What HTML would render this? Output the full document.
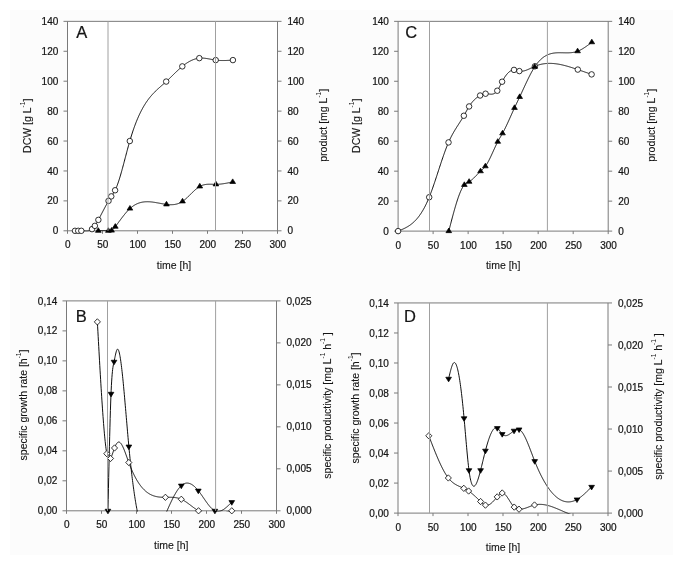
<!DOCTYPE html>
<html><head><meta charset="utf-8"><style>
html,body{margin:0;padding:0;background:#fff;}
svg{display:block;filter:grayscale(1);}
text{font-family:"Liberation Sans", sans-serif;fill:#151515;stroke:#151515;stroke-width:0.22px;}
text.t{stroke-width:0.12px;}
</style></head><body>
<svg width="685" height="566" viewBox="0 0 685 566">
<rect x="0" y="0" width="685" height="566" fill="#fff"/>
<rect x="10" y="10" width="663" height="545" fill="#fcfcfc"/>
<rect x="67.50" y="21.35" width="210.00" height="209.45" fill="#fff"/>
<line x1="63.50" y1="21.35" x2="281.50" y2="21.35" stroke="#7a7a7a" stroke-width="1"/>
<line x1="67.50" y1="21.35" x2="67.50" y2="233.80" stroke="#7a7a7a" stroke-width="1"/>
<line x1="277.50" y1="21.35" x2="277.50" y2="233.80" stroke="#7a7a7a" stroke-width="1"/>
<line x1="63.50" y1="230.80" x2="281.50" y2="230.80" stroke="#7a7a7a" stroke-width="1"/>
<text x="58.30" y="234.40" font-size="10" text-anchor="end">0</text>
<line x1="63.50" y1="200.88" x2="67.50" y2="200.88" stroke="#7a7a7a" stroke-width="1"/>
<text x="58.30" y="204.48" font-size="10" text-anchor="end">20</text>
<line x1="63.50" y1="170.96" x2="67.50" y2="170.96" stroke="#7a7a7a" stroke-width="1"/>
<text x="58.30" y="174.56" font-size="10" text-anchor="end">40</text>
<line x1="63.50" y1="141.04" x2="67.50" y2="141.04" stroke="#7a7a7a" stroke-width="1"/>
<text x="58.30" y="144.64" font-size="10" text-anchor="end">60</text>
<line x1="63.50" y1="111.11" x2="67.50" y2="111.11" stroke="#7a7a7a" stroke-width="1"/>
<text x="58.30" y="114.71" font-size="10" text-anchor="end">80</text>
<line x1="63.50" y1="81.19" x2="67.50" y2="81.19" stroke="#7a7a7a" stroke-width="1"/>
<text x="58.30" y="84.79" font-size="10" text-anchor="end">100</text>
<line x1="63.50" y1="51.27" x2="67.50" y2="51.27" stroke="#7a7a7a" stroke-width="1"/>
<text x="58.30" y="54.87" font-size="10" text-anchor="end">120</text>
<text x="58.30" y="24.95" font-size="10" text-anchor="end">140</text>
<text x="287.50" y="234.40" font-size="10" text-anchor="start">0</text>
<line x1="277.50" y1="200.88" x2="281.50" y2="200.88" stroke="#7a7a7a" stroke-width="1"/>
<text x="287.50" y="204.48" font-size="10" text-anchor="start">20</text>
<line x1="277.50" y1="170.96" x2="281.50" y2="170.96" stroke="#7a7a7a" stroke-width="1"/>
<text x="287.50" y="174.56" font-size="10" text-anchor="start">40</text>
<line x1="277.50" y1="141.04" x2="281.50" y2="141.04" stroke="#7a7a7a" stroke-width="1"/>
<text x="287.50" y="144.64" font-size="10" text-anchor="start">60</text>
<line x1="277.50" y1="111.11" x2="281.50" y2="111.11" stroke="#7a7a7a" stroke-width="1"/>
<text x="287.50" y="114.71" font-size="10" text-anchor="start">80</text>
<line x1="277.50" y1="81.19" x2="281.50" y2="81.19" stroke="#7a7a7a" stroke-width="1"/>
<text x="287.50" y="84.79" font-size="10" text-anchor="start">100</text>
<line x1="277.50" y1="51.27" x2="281.50" y2="51.27" stroke="#7a7a7a" stroke-width="1"/>
<text x="287.50" y="54.87" font-size="10" text-anchor="start">120</text>
<text x="287.50" y="24.95" font-size="10" text-anchor="start">140</text>
<text x="67.80" y="248.40" font-size="10" text-anchor="middle">0</text>
<line x1="102.50" y1="230.80" x2="102.50" y2="233.80" stroke="#7a7a7a" stroke-width="1"/>
<text x="102.80" y="248.40" font-size="10" text-anchor="middle">50</text>
<line x1="137.50" y1="230.80" x2="137.50" y2="233.80" stroke="#7a7a7a" stroke-width="1"/>
<text x="137.80" y="248.40" font-size="10" text-anchor="middle">100</text>
<line x1="172.50" y1="230.80" x2="172.50" y2="233.80" stroke="#7a7a7a" stroke-width="1"/>
<text x="172.80" y="248.40" font-size="10" text-anchor="middle">150</text>
<line x1="207.50" y1="230.80" x2="207.50" y2="233.80" stroke="#7a7a7a" stroke-width="1"/>
<text x="207.80" y="248.40" font-size="10" text-anchor="middle">200</text>
<line x1="242.50" y1="230.80" x2="242.50" y2="233.80" stroke="#7a7a7a" stroke-width="1"/>
<text x="242.80" y="248.40" font-size="10" text-anchor="middle">250</text>
<text x="277.80" y="248.40" font-size="10" text-anchor="middle">300</text>
<text x="76.30" y="38.15" font-size="16.5" text-anchor="start">A</text>
<text x="174.00" y="268.80" font-size="10.5" text-anchor="middle" class="t">time [h]</text>
<clipPath id="cA"><rect x="67.50" y="20.85" width="210.00" height="210.65"/></clipPath>
<rect x="66.50" y="300.90" width="210.00" height="209.90" fill="#fff"/>
<line x1="62.50" y1="300.90" x2="280.50" y2="300.90" stroke="#7a7a7a" stroke-width="1"/>
<line x1="66.50" y1="300.90" x2="66.50" y2="513.80" stroke="#7a7a7a" stroke-width="1"/>
<line x1="276.50" y1="300.90" x2="276.50" y2="513.80" stroke="#7a7a7a" stroke-width="1"/>
<line x1="62.50" y1="510.80" x2="280.50" y2="510.80" stroke="#7a7a7a" stroke-width="1"/>
<text x="57.30" y="514.40" font-size="10" text-anchor="end">0,00</text>
<line x1="62.50" y1="480.81" x2="66.50" y2="480.81" stroke="#7a7a7a" stroke-width="1"/>
<text x="57.30" y="484.41" font-size="10" text-anchor="end">0,02</text>
<line x1="62.50" y1="450.83" x2="66.50" y2="450.83" stroke="#7a7a7a" stroke-width="1"/>
<text x="57.30" y="454.43" font-size="10" text-anchor="end">0,04</text>
<line x1="62.50" y1="420.84" x2="66.50" y2="420.84" stroke="#7a7a7a" stroke-width="1"/>
<text x="57.30" y="424.44" font-size="10" text-anchor="end">0,06</text>
<line x1="62.50" y1="390.86" x2="66.50" y2="390.86" stroke="#7a7a7a" stroke-width="1"/>
<text x="57.30" y="394.46" font-size="10" text-anchor="end">0,08</text>
<line x1="62.50" y1="360.87" x2="66.50" y2="360.87" stroke="#7a7a7a" stroke-width="1"/>
<text x="57.30" y="364.47" font-size="10" text-anchor="end">0,10</text>
<line x1="62.50" y1="330.89" x2="66.50" y2="330.89" stroke="#7a7a7a" stroke-width="1"/>
<text x="57.30" y="334.49" font-size="10" text-anchor="end">0,12</text>
<text x="57.30" y="304.50" font-size="10" text-anchor="end">0,14</text>
<text x="286.50" y="514.40" font-size="10" text-anchor="start">0,000</text>
<line x1="276.50" y1="468.82" x2="280.50" y2="468.82" stroke="#7a7a7a" stroke-width="1"/>
<text x="286.50" y="472.42" font-size="10" text-anchor="start">0,005</text>
<line x1="276.50" y1="426.84" x2="280.50" y2="426.84" stroke="#7a7a7a" stroke-width="1"/>
<text x="286.50" y="430.44" font-size="10" text-anchor="start">0,010</text>
<line x1="276.50" y1="384.86" x2="280.50" y2="384.86" stroke="#7a7a7a" stroke-width="1"/>
<text x="286.50" y="388.46" font-size="10" text-anchor="start">0,015</text>
<line x1="276.50" y1="342.88" x2="280.50" y2="342.88" stroke="#7a7a7a" stroke-width="1"/>
<text x="286.50" y="346.48" font-size="10" text-anchor="start">0,020</text>
<text x="286.50" y="304.50" font-size="10" text-anchor="start">0,025</text>
<text x="66.80" y="528.40" font-size="10" text-anchor="middle">0</text>
<line x1="101.50" y1="510.80" x2="101.50" y2="513.80" stroke="#7a7a7a" stroke-width="1"/>
<text x="101.80" y="528.40" font-size="10" text-anchor="middle">50</text>
<line x1="136.50" y1="510.80" x2="136.50" y2="513.80" stroke="#7a7a7a" stroke-width="1"/>
<text x="136.80" y="528.40" font-size="10" text-anchor="middle">100</text>
<line x1="171.50" y1="510.80" x2="171.50" y2="513.80" stroke="#7a7a7a" stroke-width="1"/>
<text x="171.80" y="528.40" font-size="10" text-anchor="middle">150</text>
<line x1="206.50" y1="510.80" x2="206.50" y2="513.80" stroke="#7a7a7a" stroke-width="1"/>
<text x="206.80" y="528.40" font-size="10" text-anchor="middle">200</text>
<line x1="241.50" y1="510.80" x2="241.50" y2="513.80" stroke="#7a7a7a" stroke-width="1"/>
<text x="241.80" y="528.40" font-size="10" text-anchor="middle">250</text>
<text x="276.80" y="528.40" font-size="10" text-anchor="middle">300</text>
<text x="75.80" y="321.90" font-size="16.5" text-anchor="start">B</text>
<text x="171.30" y="548.80" font-size="10.5" text-anchor="middle" class="t">time [h]</text>
<clipPath id="cB"><rect x="66.50" y="300.40" width="210.00" height="211.10"/></clipPath>
<rect x="398.10" y="21.35" width="210.10" height="209.75" fill="#fff"/>
<line x1="394.10" y1="21.35" x2="612.20" y2="21.35" stroke="#7a7a7a" stroke-width="1"/>
<line x1="398.10" y1="21.35" x2="398.10" y2="234.10" stroke="#7a7a7a" stroke-width="1"/>
<line x1="608.20" y1="21.35" x2="608.20" y2="234.10" stroke="#7a7a7a" stroke-width="1"/>
<line x1="394.10" y1="231.10" x2="612.20" y2="231.10" stroke="#7a7a7a" stroke-width="1"/>
<text x="388.90" y="234.70" font-size="10" text-anchor="end">0</text>
<line x1="394.10" y1="201.14" x2="398.10" y2="201.14" stroke="#7a7a7a" stroke-width="1"/>
<text x="388.90" y="204.74" font-size="10" text-anchor="end">20</text>
<line x1="394.10" y1="171.17" x2="398.10" y2="171.17" stroke="#7a7a7a" stroke-width="1"/>
<text x="388.90" y="174.77" font-size="10" text-anchor="end">40</text>
<line x1="394.10" y1="141.21" x2="398.10" y2="141.21" stroke="#7a7a7a" stroke-width="1"/>
<text x="388.90" y="144.81" font-size="10" text-anchor="end">60</text>
<line x1="394.10" y1="111.24" x2="398.10" y2="111.24" stroke="#7a7a7a" stroke-width="1"/>
<text x="388.90" y="114.84" font-size="10" text-anchor="end">80</text>
<line x1="394.10" y1="81.28" x2="398.10" y2="81.28" stroke="#7a7a7a" stroke-width="1"/>
<text x="388.90" y="84.88" font-size="10" text-anchor="end">100</text>
<line x1="394.10" y1="51.31" x2="398.10" y2="51.31" stroke="#7a7a7a" stroke-width="1"/>
<text x="388.90" y="54.91" font-size="10" text-anchor="end">120</text>
<text x="388.90" y="24.95" font-size="10" text-anchor="end">140</text>
<text x="618.20" y="234.70" font-size="10" text-anchor="start">0</text>
<line x1="608.20" y1="201.14" x2="612.20" y2="201.14" stroke="#7a7a7a" stroke-width="1"/>
<text x="618.20" y="204.74" font-size="10" text-anchor="start">20</text>
<line x1="608.20" y1="171.17" x2="612.20" y2="171.17" stroke="#7a7a7a" stroke-width="1"/>
<text x="618.20" y="174.77" font-size="10" text-anchor="start">40</text>
<line x1="608.20" y1="141.21" x2="612.20" y2="141.21" stroke="#7a7a7a" stroke-width="1"/>
<text x="618.20" y="144.81" font-size="10" text-anchor="start">60</text>
<line x1="608.20" y1="111.24" x2="612.20" y2="111.24" stroke="#7a7a7a" stroke-width="1"/>
<text x="618.20" y="114.84" font-size="10" text-anchor="start">80</text>
<line x1="608.20" y1="81.28" x2="612.20" y2="81.28" stroke="#7a7a7a" stroke-width="1"/>
<text x="618.20" y="84.88" font-size="10" text-anchor="start">100</text>
<line x1="608.20" y1="51.31" x2="612.20" y2="51.31" stroke="#7a7a7a" stroke-width="1"/>
<text x="618.20" y="54.91" font-size="10" text-anchor="start">120</text>
<text x="618.20" y="24.95" font-size="10" text-anchor="start">140</text>
<text x="398.40" y="248.70" font-size="10" text-anchor="middle">0</text>
<line x1="433.12" y1="231.10" x2="433.12" y2="234.10" stroke="#7a7a7a" stroke-width="1"/>
<text x="433.42" y="248.70" font-size="10" text-anchor="middle">50</text>
<line x1="468.13" y1="231.10" x2="468.13" y2="234.10" stroke="#7a7a7a" stroke-width="1"/>
<text x="468.43" y="248.70" font-size="10" text-anchor="middle">100</text>
<line x1="503.15" y1="231.10" x2="503.15" y2="234.10" stroke="#7a7a7a" stroke-width="1"/>
<text x="503.45" y="248.70" font-size="10" text-anchor="middle">150</text>
<line x1="538.17" y1="231.10" x2="538.17" y2="234.10" stroke="#7a7a7a" stroke-width="1"/>
<text x="538.47" y="248.70" font-size="10" text-anchor="middle">200</text>
<line x1="573.18" y1="231.10" x2="573.18" y2="234.10" stroke="#7a7a7a" stroke-width="1"/>
<text x="573.48" y="248.70" font-size="10" text-anchor="middle">250</text>
<text x="608.50" y="248.70" font-size="10" text-anchor="middle">300</text>
<text x="405.20" y="38.05" font-size="16.5" text-anchor="start">C</text>
<text x="503.15" y="269.10" font-size="10.5" text-anchor="middle" class="t">time [h]</text>
<clipPath id="cC"><rect x="398.10" y="20.85" width="210.10" height="210.95"/></clipPath>
<rect x="398.00" y="302.95" width="210.00" height="210.15" fill="#fff"/>
<line x1="394.00" y1="302.95" x2="612.00" y2="302.95" stroke="#7a7a7a" stroke-width="1"/>
<line x1="398.00" y1="302.95" x2="398.00" y2="516.10" stroke="#7a7a7a" stroke-width="1"/>
<line x1="608.00" y1="302.95" x2="608.00" y2="516.10" stroke="#7a7a7a" stroke-width="1"/>
<line x1="394.00" y1="513.10" x2="612.00" y2="513.10" stroke="#7a7a7a" stroke-width="1"/>
<text x="388.80" y="516.70" font-size="10" text-anchor="end">0,00</text>
<line x1="394.00" y1="483.08" x2="398.00" y2="483.08" stroke="#7a7a7a" stroke-width="1"/>
<text x="388.80" y="486.68" font-size="10" text-anchor="end">0,02</text>
<line x1="394.00" y1="453.06" x2="398.00" y2="453.06" stroke="#7a7a7a" stroke-width="1"/>
<text x="388.80" y="456.66" font-size="10" text-anchor="end">0,04</text>
<line x1="394.00" y1="423.04" x2="398.00" y2="423.04" stroke="#7a7a7a" stroke-width="1"/>
<text x="388.80" y="426.64" font-size="10" text-anchor="end">0,06</text>
<line x1="394.00" y1="393.01" x2="398.00" y2="393.01" stroke="#7a7a7a" stroke-width="1"/>
<text x="388.80" y="396.61" font-size="10" text-anchor="end">0,08</text>
<line x1="394.00" y1="362.99" x2="398.00" y2="362.99" stroke="#7a7a7a" stroke-width="1"/>
<text x="388.80" y="366.59" font-size="10" text-anchor="end">0,10</text>
<line x1="394.00" y1="332.97" x2="398.00" y2="332.97" stroke="#7a7a7a" stroke-width="1"/>
<text x="388.80" y="336.57" font-size="10" text-anchor="end">0,12</text>
<text x="388.80" y="306.55" font-size="10" text-anchor="end">0,14</text>
<text x="618.00" y="516.70" font-size="10" text-anchor="start">0,000</text>
<line x1="608.00" y1="471.07" x2="612.00" y2="471.07" stroke="#7a7a7a" stroke-width="1"/>
<text x="618.00" y="474.67" font-size="10" text-anchor="start">0,005</text>
<line x1="608.00" y1="429.04" x2="612.00" y2="429.04" stroke="#7a7a7a" stroke-width="1"/>
<text x="618.00" y="432.64" font-size="10" text-anchor="start">0,010</text>
<line x1="608.00" y1="387.01" x2="612.00" y2="387.01" stroke="#7a7a7a" stroke-width="1"/>
<text x="618.00" y="390.61" font-size="10" text-anchor="start">0,015</text>
<line x1="608.00" y1="344.98" x2="612.00" y2="344.98" stroke="#7a7a7a" stroke-width="1"/>
<text x="618.00" y="348.58" font-size="10" text-anchor="start">0,020</text>
<text x="618.00" y="306.55" font-size="10" text-anchor="start">0,025</text>
<text x="398.30" y="530.70" font-size="10" text-anchor="middle">0</text>
<line x1="433.00" y1="513.10" x2="433.00" y2="516.10" stroke="#7a7a7a" stroke-width="1"/>
<text x="433.30" y="530.70" font-size="10" text-anchor="middle">50</text>
<line x1="468.00" y1="513.10" x2="468.00" y2="516.10" stroke="#7a7a7a" stroke-width="1"/>
<text x="468.30" y="530.70" font-size="10" text-anchor="middle">100</text>
<line x1="503.00" y1="513.10" x2="503.00" y2="516.10" stroke="#7a7a7a" stroke-width="1"/>
<text x="503.30" y="530.70" font-size="10" text-anchor="middle">150</text>
<line x1="538.00" y1="513.10" x2="538.00" y2="516.10" stroke="#7a7a7a" stroke-width="1"/>
<text x="538.30" y="530.70" font-size="10" text-anchor="middle">200</text>
<line x1="573.00" y1="513.10" x2="573.00" y2="516.10" stroke="#7a7a7a" stroke-width="1"/>
<text x="573.30" y="530.70" font-size="10" text-anchor="middle">250</text>
<text x="608.30" y="530.70" font-size="10" text-anchor="middle">300</text>
<text x="404.10" y="321.85" font-size="16.5" text-anchor="start">D</text>
<text x="503.00" y="551.10" font-size="10.5" text-anchor="middle" class="t">time [h]</text>
<clipPath id="cD"><rect x="398.00" y="302.45" width="210.00" height="211.35"/></clipPath>
<text x="31.30" y="125.80" font-size="10.5" text-anchor="middle" class="t" transform="rotate(-90 31.30 125.80)">DCW [g L<tspan font-size="6.5" dy="-5.9" style="stroke-width:0">-1</tspan><tspan dy="5.9">]</tspan></text>
<text x="326.80" y="125.30" font-size="10.5" text-anchor="middle" class="t" transform="rotate(-90 326.80 125.30)">product [mg L<tspan font-size="6.5" dy="-5.9" style="stroke-width:0">-1</tspan><tspan dy="5.9">]</tspan></text>
<text x="27.20" y="405.00" font-size="10.5" text-anchor="middle" class="t" transform="rotate(-90 27.20 405.00)">specific growth rate [h<tspan font-size="6.5" dy="-5.9" style="stroke-width:0">-1</tspan><tspan dy="5.9">]</tspan></text>
<text x="331.00" y="405.50" font-size="10.5" text-anchor="middle" class="t" transform="rotate(-90 331.00 405.50)">specific productivity [mg L<tspan font-size="6.5" dy="-5.9" style="stroke-width:0">-1</tspan><tspan dy="5.9"> h</tspan><tspan font-size="6.5" dy="-5.9" style="stroke-width:0">-1</tspan><tspan dy="5.9"> ]</tspan></text>
<text x="360.00" y="125.80" font-size="10.5" text-anchor="middle" class="t" transform="rotate(-90 360.00 125.80)">DCW [g L<tspan font-size="6.5" dy="-5.9" style="stroke-width:0">-1</tspan><tspan dy="5.9">]</tspan></text>
<text x="655.00" y="125.30" font-size="10.5" text-anchor="middle" class="t" transform="rotate(-90 655.00 125.30)">product [mg L<tspan font-size="6.5" dy="-5.9" style="stroke-width:0">-1</tspan><tspan dy="5.9">]</tspan></text>
<text x="358.50" y="408.00" font-size="10.5" text-anchor="middle" class="t" transform="rotate(-90 358.50 408.00)">specific growth rate [h<tspan font-size="6.5" dy="-5.9" style="stroke-width:0">-1</tspan><tspan dy="5.9">]</tspan></text>
<text x="662.30" y="406.50" font-size="10.5" text-anchor="middle" class="t" transform="rotate(-90 662.30 406.50)">specific productivity [mg L<tspan font-size="6.5" dy="-5.9" style="stroke-width:0">-1</tspan><tspan dy="5.9"> h</tspan><tspan font-size="6.5" dy="-5.9" style="stroke-width:0">-1</tspan><tspan dy="5.9"> ]</tspan></text>
<path d="M74.99,230.80 L75.31,230.80 L75.62,230.80 L75.94,230.81 L76.26,230.81 L76.57,230.81 L76.89,230.81 L77.21,230.81 L77.52,230.81 L77.84,230.80 L78.15,230.80 L78.47,230.80 L78.79,230.79 L79.10,230.79 L79.42,230.78 L79.74,230.78 L80.05,230.77 L80.37,230.78 L80.69,230.78 L81.00,230.79 L81.32,230.80 L81.64,230.82 L81.95,230.84 L82.27,230.87 L82.59,230.90 L82.90,230.93 L83.22,230.96 L83.53,230.99 L83.85,231.02 L84.17,231.05 L84.48,231.08 L84.80,231.11 L85.12,231.13 L85.43,231.15 L85.75,231.16 L86.07,231.17 L86.38,231.17 L86.70,231.16 L87.02,231.15 L87.33,231.12 L87.65,231.08 L87.97,231.04 L88.28,230.98 L88.60,230.91 L88.91,230.83 L89.23,230.73 L89.55,230.62 L89.86,230.49 L90.18,230.34 L90.50,230.18 L90.81,230.00 L91.13,229.80 L91.45,229.59 L91.76,229.35 L92.08,229.09 L92.40,228.81 L92.71,228.50 L93.03,228.18 L93.35,227.83 L93.66,227.46 L93.98,227.07 L94.29,226.66 L94.61,226.23 L94.93,225.78 L95.24,225.31 L95.56,224.81 L95.88,224.31 L96.19,223.78 L96.51,223.24 L96.83,222.69 L97.14,222.13 L97.46,221.56 L97.78,220.98 L98.09,220.39 L98.41,219.81 L98.73,219.21 L99.04,218.62 L99.36,218.02 L99.67,217.43 L99.99,216.82 L100.31,216.22 L100.62,215.62 L100.94,215.02 L101.26,214.41 L101.57,213.81 L101.89,213.20 L102.21,212.59 L102.52,211.99 L102.84,211.38 L103.16,210.78 L103.47,210.17 L103.79,209.57 L104.11,208.97 L104.42,208.37 L104.74,207.77 L105.05,207.18 L105.37,206.59 L105.69,206.00 L106.00,205.41 L106.32,204.83 L106.64,204.25 L106.95,203.67 L107.27,203.10 L107.59,202.53 L107.90,201.96 L108.22,201.40 L108.54,200.85 L108.85,200.30 L109.17,199.76 L109.49,199.22 L109.80,198.69 L110.12,198.17 L110.43,197.66 L110.75,197.16 L111.07,196.67 L111.38,196.19 L111.70,195.72 L112.02,195.25 L112.33,194.79 L112.65,194.33 L112.97,193.86 L113.28,193.38 L113.60,192.89 L113.92,192.38 L114.23,191.85 L114.55,191.30 L114.87,190.71 L115.18,190.09 L115.50,189.44 L115.82,188.75 L116.13,188.03 L116.45,187.28 L116.76,186.49 L117.08,185.68 L117.40,184.83 L117.71,183.96 L118.03,183.06 L118.35,182.14 L118.66,181.19 L118.98,180.22 L119.30,179.22 L119.61,178.21 L119.93,177.17 L120.25,176.12 L120.56,175.05 L120.88,173.96 L121.20,172.85 L121.51,171.73 L121.83,170.60 L122.14,169.46 L122.46,168.30 L122.78,167.14 L123.09,165.96 L123.41,164.78 L123.73,163.59 L124.04,162.40 L124.36,161.20 L124.68,160.00 L124.99,158.79 L125.31,157.59 L125.63,156.38 L125.94,155.18 L126.26,153.98 L126.58,152.78 L126.89,151.59 L127.21,150.40 L127.52,149.22 L127.84,148.05 L128.16,146.88 L128.47,145.73 L128.79,144.59 L129.11,143.46 L129.42,142.34 L129.74,141.24 L130.06,140.16 L130.37,139.09 L130.69,138.03 L131.01,137.00 L131.32,135.97 L131.64,134.97 L131.96,133.97 L132.27,133.00 L132.59,132.03 L132.90,131.08 L133.22,130.15 L133.54,129.23 L133.85,128.33 L134.17,127.44 L134.49,126.56 L134.80,125.69 L135.12,124.84 L135.44,124.01 L135.75,123.18 L136.07,122.37 L136.39,121.57 L136.70,120.79 L137.02,120.02 L137.34,119.26 L137.65,118.51 L137.97,117.77 L138.28,117.05 L138.60,116.34 L138.92,115.64 L139.23,114.95 L139.55,114.27 L139.87,113.61 L140.18,112.95 L140.50,112.31 L140.82,111.67 L141.13,111.05 L141.45,110.44 L141.77,109.83 L142.08,109.24 L142.40,108.66 L142.72,108.09 L143.03,107.52 L143.35,106.97 L143.66,106.42 L143.98,105.89 L144.30,105.36 L144.61,104.84 L144.93,104.33 L145.25,103.83 L145.56,103.34 L145.88,102.86 L146.20,102.38 L146.51,101.91 L146.83,101.45 L147.15,101.00 L147.46,100.55 L147.78,100.11 L148.10,99.68 L148.41,99.26 L148.73,98.84 L149.04,98.43 L149.36,98.02 L149.68,97.62 L149.99,97.23 L150.31,96.84 L150.63,96.46 L150.94,96.09 L151.26,95.72 L151.58,95.35 L151.89,95.00 L152.21,94.64 L152.53,94.29 L152.84,93.95 L153.16,93.61 L153.48,93.27 L153.79,92.94 L154.11,92.61 L154.42,92.29 L154.74,91.97 L155.06,91.65 L155.37,91.34 L155.69,91.03 L156.01,90.73 L156.32,90.42 L156.64,90.12 L156.96,89.82 L157.27,89.53 L157.59,89.24 L157.91,88.94 L158.22,88.66 L158.54,88.37 L158.86,88.08 L159.17,87.80 L159.49,87.52 L159.80,87.24 L160.12,86.96 L160.44,86.68 L160.75,86.40 L161.07,86.12 L161.39,85.84 L161.70,85.57 L162.02,85.29 L162.34,85.01 L162.65,84.73 L162.97,84.46 L163.29,84.18 L163.60,83.90 L163.92,83.62 L164.24,83.34 L164.55,83.06 L164.87,82.78 L165.18,82.49 L165.50,82.20 L165.82,81.92 L166.13,81.63 L166.45,81.34 L166.77,81.04 L167.08,80.75 L167.40,80.45 L167.72,80.15 L168.03,79.85 L168.35,79.55 L168.67,79.24 L168.98,78.94 L169.30,78.63 L169.62,78.32 L169.93,78.02 L170.25,77.71 L170.56,77.40 L170.88,77.09 L171.20,76.78 L171.51,76.46 L171.83,76.15 L172.15,75.84 L172.46,75.53 L172.78,75.22 L173.10,74.91 L173.41,74.59 L173.73,74.28 L174.05,73.97 L174.36,73.66 L174.68,73.35 L175.00,73.04 L175.31,72.74 L175.63,72.43 L175.94,72.12 L176.26,71.82 L176.58,71.52 L176.89,71.21 L177.21,70.91 L177.53,70.61 L177.84,70.32 L178.16,70.02 L178.48,69.73 L178.79,69.44 L179.11,69.15 L179.43,68.86 L179.74,68.58 L180.06,68.30 L180.38,68.02 L180.69,67.74 L181.01,67.47 L181.32,67.20 L181.64,66.93 L181.96,66.66 L182.27,66.40 L182.59,66.14 L182.91,65.89 L183.22,65.64 L183.54,65.39 L183.86,65.15 L184.17,64.91 L184.49,64.67 L184.81,64.44 L185.12,64.21 L185.44,63.98 L185.76,63.76 L186.07,63.54 L186.39,63.32 L186.70,63.11 L187.02,62.91 L187.34,62.70 L187.65,62.50 L187.97,62.31 L188.29,62.11 L188.60,61.93 L188.92,61.74 L189.24,61.56 L189.55,61.39 L189.87,61.22 L190.19,61.05 L190.50,60.89 L190.82,60.73 L191.14,60.57 L191.45,60.42 L191.77,60.28 L192.08,60.13 L192.40,60.00 L192.72,59.86 L193.03,59.73 L193.35,59.61 L193.67,59.49 L193.98,59.38 L194.30,59.27 L194.62,59.16 L194.93,59.06 L195.25,58.96 L195.57,58.87 L195.88,58.78 L196.20,58.70 L196.52,58.62 L196.83,58.55 L197.15,58.48 L197.47,58.42 L197.78,58.36 L198.10,58.31 L198.41,58.26 L198.73,58.22 L199.05,58.18 L199.36,58.15 L199.68,58.12 L200.00,58.10 L200.31,58.08 L200.63,58.07 L200.95,58.06 L201.26,58.05 L201.58,58.05 L201.90,58.06 L202.21,58.07 L202.53,58.08 L202.85,58.09 L203.16,58.11 L203.48,58.14 L203.79,58.16 L204.11,58.19 L204.43,58.22 L204.74,58.26 L205.06,58.29 L205.38,58.33 L205.69,58.38 L206.01,58.42 L206.33,58.47 L206.64,58.51 L206.96,58.56 L207.28,58.62 L207.59,58.67 L207.91,58.72 L208.23,58.78 L208.54,58.84 L208.86,58.90 L209.17,58.95 L209.49,59.01 L209.81,59.07 L210.12,59.13 L210.44,59.19 L210.76,59.25 L211.07,59.31 L211.39,59.37 L211.71,59.43 L212.02,59.49 L212.34,59.55 L212.66,59.61 L212.97,59.67 L213.29,59.72 L213.61,59.78 L213.92,59.83 L214.24,59.88 L214.55,59.93 L214.87,59.98 L215.19,60.03 L215.50,60.07 L215.82,60.12 L216.14,60.16 L216.45,60.19 L216.77,60.23 L217.09,60.26 L217.40,60.29 L217.72,60.32 L218.04,60.35 L218.35,60.37 L218.67,60.40 L218.99,60.42 L219.30,60.44 L219.62,60.45 L219.93,60.47 L220.25,60.48 L220.57,60.50 L220.88,60.51 L221.20,60.52 L221.52,60.52 L221.83,60.53 L222.15,60.53 L222.47,60.54 L222.78,60.54 L223.10,60.54 L223.42,60.54 L223.73,60.53 L224.05,60.53 L224.37,60.53 L224.68,60.52 L225.00,60.51 L225.31,60.50 L225.63,60.49 L225.95,60.48 L226.26,60.47 L226.58,60.46 L226.90,60.45 L227.21,60.43 L227.53,60.42 L227.85,60.40 L228.16,60.39 L228.48,60.37 L228.80,60.36 L229.11,60.34 L229.43,60.32 L229.75,60.30 L230.06,60.28 L230.38,60.26 L230.69,60.24 L231.01,60.22 L231.33,60.20 L231.64,60.18 L231.96,60.16 L232.28,60.14 L232.59,60.12 L232.91,60.10" fill="none" stroke="#000" stroke-width="0.95" clip-path="url(#cA)"/>
<path d="M98.30,230.80 L98.57,230.78 L98.84,230.77 L99.11,230.75 L99.38,230.74 L99.65,230.72 L99.92,230.70 L100.19,230.69 L100.45,230.68 L100.72,230.66 L100.99,230.65 L101.26,230.64 L101.53,230.62 L101.80,230.61 L102.07,230.60 L102.34,230.59 L102.61,230.59 L102.88,230.58 L103.15,230.57 L103.42,230.57 L103.69,230.57 L103.96,230.57 L104.23,230.57 L104.49,230.57 L104.76,230.57 L105.03,230.57 L105.30,230.58 L105.57,230.59 L105.84,230.60 L106.11,230.61 L106.38,230.63 L106.65,230.64 L106.92,230.66 L107.19,230.68 L107.46,230.70 L107.73,230.73 L108.00,230.76 L108.27,230.79 L108.53,230.82 L108.80,230.85 L109.07,230.88 L109.34,230.91 L109.61,230.93 L109.88,230.94 L110.15,230.94 L110.42,230.92 L110.69,230.88 L110.96,230.82 L111.23,230.74 L111.50,230.63 L111.77,230.48 L112.04,230.31 L112.31,230.12 L112.57,229.89 L112.84,229.65 L113.11,229.38 L113.38,229.09 L113.65,228.79 L113.92,228.47 L114.19,228.14 L114.46,227.80 L114.73,227.45 L115.00,227.10 L115.27,226.74 L115.54,226.38 L115.81,226.02 L116.08,225.66 L116.35,225.30 L116.62,224.93 L116.88,224.57 L117.15,224.20 L117.42,223.84 L117.69,223.47 L117.96,223.11 L118.23,222.74 L118.50,222.37 L118.77,222.01 L119.04,221.64 L119.31,221.28 L119.58,220.91 L119.85,220.55 L120.12,220.19 L120.39,219.83 L120.66,219.46 L120.92,219.11 L121.19,218.75 L121.46,218.39 L121.73,218.03 L122.00,217.68 L122.27,217.33 L122.54,216.98 L122.81,216.63 L123.08,216.28 L123.35,215.94 L123.62,215.60 L123.89,215.26 L124.16,214.93 L124.43,214.59 L124.70,214.26 L124.96,213.93 L125.23,213.61 L125.50,213.29 L125.77,212.97 L126.04,212.66 L126.31,212.35 L126.58,212.04 L126.85,211.74 L127.12,211.44 L127.39,211.15 L127.66,210.86 L127.93,210.57 L128.20,210.29 L128.47,210.01 L128.74,209.74 L129.00,209.47 L129.27,209.21 L129.54,208.95 L129.81,208.70 L130.08,208.45 L130.35,208.21 L130.62,207.98 L130.89,207.75 L131.16,207.52 L131.43,207.30 L131.70,207.09 L131.97,206.88 L132.24,206.67 L132.51,206.47 L132.78,206.28 L133.04,206.09 L133.31,205.90 L133.58,205.72 L133.85,205.55 L134.12,205.38 L134.39,205.21 L134.66,205.05 L134.93,204.89 L135.20,204.74 L135.47,204.59 L135.74,204.45 L136.01,204.31 L136.28,204.17 L136.55,204.04 L136.82,203.91 L137.08,203.79 L137.35,203.67 L137.62,203.56 L137.89,203.45 L138.16,203.34 L138.43,203.24 L138.70,203.14 L138.97,203.05 L139.24,202.95 L139.51,202.87 L139.78,202.78 L140.05,202.70 L140.32,202.63 L140.59,202.55 L140.86,202.48 L141.12,202.42 L141.39,202.36 L141.66,202.30 L141.93,202.24 L142.20,202.19 L142.47,202.14 L142.74,202.09 L143.01,202.05 L143.28,202.01 L143.55,201.97 L143.82,201.93 L144.09,201.90 L144.36,201.87 L144.63,201.85 L144.90,201.82 L145.16,201.80 L145.43,201.79 L145.70,201.77 L145.97,201.76 L146.24,201.75 L146.51,201.74 L146.78,201.73 L147.05,201.73 L147.32,201.73 L147.59,201.73 L147.86,201.73 L148.13,201.74 L148.40,201.74 L148.67,201.75 L148.94,201.76 L149.21,201.78 L149.47,201.79 L149.74,201.81 L150.01,201.83 L150.28,201.85 L150.55,201.87 L150.82,201.90 L151.09,201.92 L151.36,201.95 L151.63,201.98 L151.90,202.01 L152.17,202.04 L152.44,202.07 L152.71,202.10 L152.98,202.14 L153.25,202.18 L153.51,202.21 L153.78,202.25 L154.05,202.29 L154.32,202.33 L154.59,202.37 L154.86,202.42 L155.13,202.46 L155.40,202.50 L155.67,202.55 L155.94,202.59 L156.21,202.64 L156.48,202.69 L156.75,202.74 L157.02,202.78 L157.29,202.83 L157.55,202.88 L157.82,202.93 L158.09,202.98 L158.36,203.03 L158.63,203.08 L158.90,203.13 L159.17,203.18 L159.44,203.23 L159.71,203.28 L159.98,203.33 L160.25,203.38 L160.52,203.43 L160.79,203.48 L161.06,203.53 L161.33,203.58 L161.59,203.63 L161.86,203.67 L162.13,203.72 L162.40,203.77 L162.67,203.82 L162.94,203.86 L163.21,203.91 L163.48,203.95 L163.75,204.00 L164.02,204.04 L164.29,204.08 L164.56,204.13 L164.83,204.17 L165.10,204.21 L165.37,204.25 L165.63,204.28 L165.90,204.32 L166.17,204.36 L166.44,204.39 L166.71,204.42 L166.98,204.45 L167.25,204.48 L167.52,204.51 L167.79,204.54 L168.06,204.57 L168.33,204.59 L168.60,204.61 L168.87,204.63 L169.14,204.65 L169.41,204.67 L169.67,204.68 L169.94,204.69 L170.21,204.70 L170.48,204.71 L170.75,204.71 L171.02,204.71 L171.29,204.71 L171.56,204.71 L171.83,204.70 L172.10,204.70 L172.37,204.68 L172.64,204.67 L172.91,204.65 L173.18,204.63 L173.45,204.61 L173.71,204.58 L173.98,204.55 L174.25,204.52 L174.52,204.48 L174.79,204.44 L175.06,204.39 L175.33,204.34 L175.60,204.29 L175.87,204.24 L176.14,204.18 L176.41,204.11 L176.68,204.04 L176.95,203.97 L177.22,203.89 L177.49,203.81 L177.75,203.73 L178.02,203.64 L178.29,203.54 L178.56,203.44 L178.83,203.34 L179.10,203.23 L179.37,203.12 L179.64,203.00 L179.91,202.87 L180.18,202.74 L180.45,202.61 L180.72,202.47 L180.99,202.33 L181.26,202.18 L181.53,202.02 L181.79,201.86 L182.06,201.69 L182.33,201.52 L182.60,201.34 L182.87,201.16 L183.14,200.97 L183.41,200.77 L183.68,200.57 L183.95,200.36 L184.22,200.15 L184.49,199.94 L184.76,199.72 L185.03,199.50 L185.30,199.27 L185.57,199.04 L185.84,198.80 L186.10,198.56 L186.37,198.32 L186.64,198.08 L186.91,197.83 L187.18,197.58 L187.45,197.32 L187.72,197.07 L187.99,196.81 L188.26,196.55 L188.53,196.29 L188.80,196.03 L189.07,195.77 L189.34,195.50 L189.61,195.24 L189.88,194.97 L190.14,194.70 L190.41,194.44 L190.68,194.17 L190.95,193.90 L191.22,193.63 L191.49,193.37 L191.76,193.10 L192.03,192.84 L192.30,192.57 L192.57,192.31 L192.84,192.05 L193.11,191.79 L193.38,191.53 L193.65,191.28 L193.92,191.02 L194.18,190.77 L194.45,190.53 L194.72,190.28 L194.99,190.04 L195.26,189.80 L195.53,189.56 L195.80,189.33 L196.07,189.10 L196.34,188.88 L196.61,188.66 L196.88,188.44 L197.15,188.23 L197.42,188.03 L197.69,187.83 L197.96,187.63 L198.22,187.44 L198.49,187.25 L198.76,187.07 L199.03,186.90 L199.30,186.73 L199.57,186.57 L199.84,186.42 L200.11,186.27 L200.38,186.13 L200.65,186.00 L200.92,185.87 L201.19,185.75 L201.46,185.63 L201.73,185.52 L202.00,185.41 L202.26,185.32 L202.53,185.22 L202.80,185.13 L203.07,185.05 L203.34,184.97 L203.61,184.90 L203.88,184.83 L204.15,184.77 L204.42,184.71 L204.69,184.65 L204.96,184.60 L205.23,184.55 L205.50,184.51 L205.77,184.47 L206.04,184.44 L206.30,184.40 L206.57,184.37 L206.84,184.35 L207.11,184.33 L207.38,184.31 L207.65,184.29 L207.92,184.27 L208.19,184.26 L208.46,184.25 L208.73,184.24 L209.00,184.24 L209.27,184.24 L209.54,184.23 L209.81,184.23 L210.08,184.23 L210.34,184.24 L210.61,184.24 L210.88,184.25 L211.15,184.25 L211.42,184.26 L211.69,184.26 L211.96,184.27 L212.23,184.28 L212.50,184.29 L212.77,184.30 L213.04,184.30 L213.31,184.31 L213.58,184.32 L213.85,184.33 L214.12,184.33 L214.38,184.34 L214.65,184.34 L214.92,184.35 L215.19,184.35 L215.46,184.35 L215.73,184.35 L216.00,184.35 L216.27,184.34 L216.54,184.34 L216.81,184.33 L217.08,184.32 L217.35,184.31 L217.62,184.30 L217.89,184.28 L218.16,184.27 L218.43,184.25 L218.69,184.23 L218.96,184.21 L219.23,184.19 L219.50,184.17 L219.77,184.15 L220.04,184.12 L220.31,184.10 L220.58,184.07 L220.85,184.04 L221.12,184.01 L221.39,183.98 L221.66,183.95 L221.93,183.91 L222.20,183.88 L222.47,183.84 L222.73,183.80 L223.00,183.77 L223.27,183.73 L223.54,183.69 L223.81,183.65 L224.08,183.60 L224.35,183.56 L224.62,183.52 L224.89,183.47 L225.16,183.43 L225.43,183.38 L225.70,183.34 L225.97,183.29 L226.24,183.24 L226.51,183.19 L226.77,183.14 L227.04,183.09 L227.31,183.04 L227.58,182.99 L227.85,182.94 L228.12,182.89 L228.39,182.84 L228.66,182.78 L228.93,182.73 L229.20,182.68 L229.47,182.62 L229.74,182.57 L230.01,182.51 L230.28,182.46 L230.55,182.40 L230.81,182.35 L231.08,182.29 L231.35,182.23 L231.62,182.18 L231.89,182.12 L232.16,182.07 L232.43,182.01 L232.70,181.95" fill="none" stroke="#000" stroke-width="0.95" clip-path="url(#cA)"/>
<path d="M97.37,321.89 L97.64,326.81 L97.91,331.72 L98.18,336.62 L98.45,341.51 L98.72,346.37 L98.99,351.21 L99.26,356.01 L99.52,360.77 L99.79,365.48 L100.06,370.15 L100.33,374.75 L100.60,379.30 L100.87,383.77 L101.14,388.18 L101.41,392.50 L101.68,396.74 L101.95,400.89 L102.22,404.94 L102.49,408.89 L102.76,412.73 L103.03,416.46 L103.30,420.06 L103.56,423.55 L103.83,426.90 L104.10,430.12 L104.37,433.19 L104.64,436.12 L104.91,438.90 L105.18,441.51 L105.45,443.96 L105.72,446.25 L105.99,448.35 L106.26,450.27 L106.53,452.01 L106.80,453.55 L107.07,454.90 L107.34,456.06 L107.60,457.03 L107.87,457.83 L108.14,458.47 L108.41,458.96 L108.68,459.30 L108.95,459.51 L109.22,459.59 L109.49,459.55 L109.76,459.40 L110.03,459.16 L110.30,458.83 L110.57,458.41 L110.84,457.93 L111.11,457.38 L111.38,456.77 L111.64,456.12 L111.91,455.42 L112.18,454.69 L112.45,453.93 L112.72,453.15 L112.99,452.36 L113.26,451.57 L113.53,450.77 L113.80,449.98 L114.07,449.21 L114.34,448.47 L114.61,447.75 L114.88,447.07 L115.15,446.43 L115.42,445.83 L115.69,445.26 L115.95,444.74 L116.22,444.26 L116.49,443.82 L116.76,443.43 L117.03,443.08 L117.30,442.79 L117.57,442.53 L117.84,442.33 L118.11,442.18 L118.38,442.08 L118.65,442.04 L118.92,442.04 L119.19,442.09 L119.46,442.19 L119.73,442.34 L119.99,442.52 L120.26,442.75 L120.53,443.02 L120.80,443.33 L121.07,443.68 L121.34,444.06 L121.61,444.48 L121.88,444.92 L122.15,445.40 L122.42,445.91 L122.69,446.45 L122.96,447.01 L123.23,447.60 L123.50,448.21 L123.77,448.84 L124.03,449.49 L124.30,450.16 L124.57,450.84 L124.84,451.54 L125.11,452.26 L125.38,452.98 L125.65,453.72 L125.92,454.46 L126.19,455.21 L126.46,455.97 L126.73,456.73 L127.00,457.49 L127.27,458.25 L127.54,459.01 L127.81,459.77 L128.07,460.52 L128.34,461.27 L128.61,462.01 L128.88,462.75 L129.15,463.47 L129.42,464.18 L129.69,464.88 L129.96,465.57 L130.23,466.26 L130.50,466.93 L130.77,467.59 L131.04,468.24 L131.31,468.89 L131.58,469.52 L131.85,470.15 L132.11,470.76 L132.38,471.37 L132.65,471.96 L132.92,472.55 L133.19,473.13 L133.46,473.70 L133.73,474.26 L134.00,474.81 L134.27,475.35 L134.54,475.88 L134.81,476.41 L135.08,476.93 L135.35,477.43 L135.62,477.93 L135.89,478.43 L136.15,478.91 L136.42,479.38 L136.69,479.85 L136.96,480.31 L137.23,480.76 L137.50,481.20 L137.77,481.63 L138.04,482.06 L138.31,482.48 L138.58,482.89 L138.85,483.29 L139.12,483.69 L139.39,484.08 L139.66,484.46 L139.93,484.83 L140.19,485.20 L140.46,485.56 L140.73,485.91 L141.00,486.26 L141.27,486.60 L141.54,486.93 L141.81,487.25 L142.08,487.57 L142.35,487.88 L142.62,488.18 L142.89,488.48 L143.16,488.77 L143.43,489.06 L143.70,489.34 L143.97,489.61 L144.23,489.88 L144.50,490.14 L144.77,490.39 L145.04,490.64 L145.31,490.88 L145.58,491.12 L145.85,491.35 L146.12,491.57 L146.39,491.79 L146.66,492.00 L146.93,492.21 L147.20,492.41 L147.47,492.61 L147.74,492.80 L148.01,492.99 L148.28,493.17 L148.54,493.35 L148.81,493.52 L149.08,493.69 L149.35,493.85 L149.62,494.00 L149.89,494.16 L150.16,494.30 L150.43,494.45 L150.70,494.59 L150.97,494.72 L151.24,494.85 L151.51,494.97 L151.78,495.09 L152.05,495.21 L152.32,495.32 L152.58,495.43 L152.85,495.54 L153.12,495.64 L153.39,495.74 L153.66,495.83 L153.93,495.92 L154.20,496.01 L154.47,496.09 L154.74,496.17 L155.01,496.24 L155.28,496.32 L155.55,496.38 L155.82,496.45 L156.09,496.51 L156.36,496.57 L156.62,496.63 L156.89,496.68 L157.16,496.74 L157.43,496.78 L157.70,496.83 L157.97,496.87 L158.24,496.91 L158.51,496.95 L158.78,496.99 L159.05,497.02 L159.32,497.05 L159.59,497.08 L159.86,497.11 L160.13,497.13 L160.40,497.15 L160.66,497.18 L160.93,497.19 L161.20,497.21 L161.47,497.23 L161.74,497.24 L162.01,497.25 L162.28,497.26 L162.55,497.27 L162.82,497.28 L163.09,497.29 L163.36,497.30 L163.63,497.30 L163.90,497.30 L164.17,497.31 L164.44,497.31 L164.70,497.31 L164.97,497.31 L165.24,497.31 L165.51,497.31 L165.78,497.30 L166.05,497.30 L166.32,497.30 L166.59,497.30 L166.86,497.29 L167.13,497.29 L167.40,497.29 L167.67,497.28 L167.94,497.28 L168.21,497.28 L168.48,497.27 L168.74,497.27 L169.01,497.27 L169.28,497.27 L169.55,497.27 L169.82,497.27 L170.09,497.27 L170.36,497.27 L170.63,497.27 L170.90,497.28 L171.17,497.28 L171.44,497.29 L171.71,497.30 L171.98,497.31 L172.25,497.32 L172.52,497.33 L172.78,497.35 L173.05,497.37 L173.32,497.39 L173.59,497.41 L173.86,497.43 L174.13,497.45 L174.40,497.48 L174.67,497.51 L174.94,497.54 L175.21,497.58 L175.48,497.62 L175.75,497.66 L176.02,497.70 L176.29,497.75 L176.56,497.80 L176.82,497.85 L177.09,497.90 L177.36,497.96 L177.63,498.02 L177.90,498.09 L178.17,498.16 L178.44,498.23 L178.71,498.31 L178.98,498.39 L179.25,498.47 L179.52,498.56 L179.79,498.66 L180.06,498.75 L180.33,498.85 L180.60,498.96 L180.86,499.07 L181.13,499.18 L181.40,499.30 L181.67,499.43 L181.94,499.55 L182.21,499.69 L182.48,499.82 L182.75,499.96 L183.02,500.11 L183.29,500.26 L183.56,500.41 L183.83,500.57 L184.10,500.73 L184.37,500.89 L184.64,501.06 L184.91,501.23 L185.17,501.40 L185.44,501.57 L185.71,501.75 L185.98,501.93 L186.25,502.11 L186.52,502.30 L186.79,502.49 L187.06,502.68 L187.33,502.87 L187.60,503.06 L187.87,503.25 L188.14,503.45 L188.41,503.65 L188.68,503.85 L188.95,504.05 L189.21,504.25 L189.48,504.45 L189.75,504.65 L190.02,504.85 L190.29,505.06 L190.56,505.26 L190.83,505.47 L191.10,505.67 L191.37,505.87 L191.64,506.08 L191.91,506.28 L192.18,506.48 L192.45,506.68 L192.72,506.89 L192.99,507.09 L193.25,507.29 L193.52,507.49 L193.79,507.68 L194.06,507.88 L194.33,508.07 L194.60,508.27 L194.87,508.46 L195.14,508.65 L195.41,508.83 L195.68,509.02 L195.95,509.20 L196.22,509.38 L196.49,509.56 L196.76,509.73 L197.03,509.90 L197.29,510.07 L197.56,510.24 L197.83,510.40 L198.10,510.56 L198.37,510.72 L198.64,510.87 L198.91,511.02 L199.18,511.16 L199.45,511.30 L199.72,511.44 L199.99,511.57 L200.26,511.70 L200.53,511.83 L200.80,511.96 L201.07,512.08 L201.33,512.19 L201.60,512.31 L201.87,512.42 L202.14,512.52 L202.41,512.63 L202.68,512.73 L202.95,512.82 L203.22,512.92 L203.49,513.01 L203.76,513.09 L204.03,513.18 L204.30,513.26 L204.57,513.34 L204.84,513.41 L205.11,513.48 L205.37,513.55 L205.64,513.62 L205.91,513.68 L206.18,513.74 L206.45,513.80 L206.72,513.86 L206.99,513.91 L207.26,513.96 L207.53,514.00 L207.80,514.05 L208.07,514.09 L208.34,514.13 L208.61,514.16 L208.88,514.20 L209.15,514.23 L209.41,514.26 L209.68,514.28 L209.95,514.31 L210.22,514.33 L210.49,514.34 L210.76,514.36 L211.03,514.37 L211.30,514.39 L211.57,514.40 L211.84,514.40 L212.11,514.41 L212.38,514.41 L212.65,514.41 L212.92,514.41 L213.19,514.41 L213.45,514.40 L213.72,514.39 L213.99,514.38 L214.26,514.37 L214.53,514.36 L214.80,514.34 L215.07,514.32 L215.34,514.30 L215.61,514.28 L215.88,514.26 L216.15,514.23 L216.42,514.21 L216.69,514.18 L216.96,514.15 L217.23,514.12 L217.50,514.09 L217.76,514.05 L218.03,514.01 L218.30,513.98 L218.57,513.94 L218.84,513.90 L219.11,513.85 L219.38,513.81 L219.65,513.77 L219.92,513.72 L220.19,513.67 L220.46,513.62 L220.73,513.57 L221.00,513.52 L221.27,513.47 L221.54,513.41 L221.80,513.36 L222.07,513.30 L222.34,513.25 L222.61,513.19 L222.88,513.13 L223.15,513.07 L223.42,513.01 L223.69,512.95 L223.96,512.88 L224.23,512.82 L224.50,512.75 L224.77,512.69 L225.04,512.62 L225.31,512.55 L225.58,512.49 L225.84,512.42 L226.11,512.35 L226.38,512.28 L226.65,512.21 L226.92,512.14 L227.19,512.07 L227.46,512.00 L227.73,511.92 L228.00,511.85 L228.27,511.78 L228.54,511.70 L228.81,511.63 L229.08,511.55 L229.35,511.48 L229.62,511.41 L229.88,511.33 L230.15,511.25 L230.42,511.18 L230.69,511.10 L230.96,511.03 L231.23,510.95 L231.50,510.88 L231.77,510.80" fill="none" stroke="#000" stroke-width="0.95" clip-path="url(#cB)"/>
<path d="M107.94,510.80 L108.19,499.65 L108.44,488.56 L108.68,477.61 L108.93,466.87 L109.18,456.39 L109.43,446.26 L109.68,436.53 L109.93,427.27 L110.17,418.56 L110.42,410.46 L110.67,403.04 L110.92,396.36 L111.17,390.49 L111.41,385.42 L111.66,381.07 L111.91,377.37 L112.16,374.25 L112.41,371.64 L112.65,369.45 L112.90,367.62 L113.15,366.07 L113.40,364.73 L113.65,363.53 L113.90,362.39 L114.14,361.24 L114.39,360.04 L114.64,358.83 L114.89,357.60 L115.14,356.39 L115.38,355.22 L115.63,354.09 L115.88,353.04 L116.13,352.07 L116.38,351.21 L116.63,350.48 L116.87,349.90 L117.12,349.48 L117.37,349.23 L117.62,349.16 L117.87,349.25 L118.11,349.50 L118.36,349.91 L118.61,350.48 L118.86,351.19 L119.11,352.04 L119.36,353.03 L119.60,354.15 L119.85,355.40 L120.10,356.78 L120.35,358.27 L120.60,359.88 L120.84,361.60 L121.09,363.42 L121.34,365.34 L121.59,367.35 L121.84,369.46 L122.08,371.65 L122.33,373.92 L122.58,376.27 L122.83,378.69 L123.08,381.18 L123.33,383.72 L123.57,386.32 L123.82,388.98 L124.07,391.68 L124.32,394.43 L124.57,397.21 L124.81,400.03 L125.06,402.87 L125.31,405.74 L125.56,408.62 L125.81,411.52 L126.06,414.43 L126.30,417.34 L126.55,420.26 L126.80,423.16 L127.05,426.06 L127.30,428.94 L127.54,431.81 L127.79,434.64 L128.04,437.45 L128.29,440.23 L128.54,442.97 L128.79,445.66 L129.03,448.31 L129.28,450.90 L129.53,453.45 L129.78,455.95 L130.03,458.40 L130.27,460.80 L130.52,463.16 L130.77,465.47 L131.02,467.74 L131.27,469.96 L131.51,472.13 L131.76,474.26 L132.01,476.35 L132.26,478.39 L132.51,480.39 L132.76,482.35 L133.00,484.26 L133.25,486.14 L133.50,487.97 L133.75,489.76 L134.00,491.52 L134.24,493.23 L134.49,494.91 L134.74,496.54 L134.99,498.14 L135.24,499.70 L135.49,501.23 L135.73,502.72 L135.98,504.17 L136.23,505.59 L136.48,506.97 L136.73,508.32 L136.97,509.63 L137.22,510.91 L137.47,512.16 L137.72,513.38 L137.97,514.56 L138.22,515.71 L138.46,516.83 L138.71,517.92 L138.96,518.98 L139.21,520.01 L139.46,521.00 L139.70,521.97 L139.95,522.91 L140.20,523.81 L140.45,524.69 L140.70,525.54 L140.94,526.36 L141.19,527.15 L141.44,527.91 L141.69,528.65 L141.94,529.36 L142.19,530.04 L142.43,530.69 L142.68,531.32 L142.93,531.92 L143.18,532.49 L143.43,533.04 L143.67,533.57 L143.92,534.07 L144.17,534.54 L144.42,534.99 L144.67,535.41 L144.92,535.81 L145.16,536.19 L145.41,536.54 L145.66,536.87 L145.91,537.18 L146.16,537.46 L146.40,537.73 L146.65,537.97 L146.90,538.19 L147.15,538.38 L147.40,538.56 L147.65,538.72 L147.89,538.85 L148.14,538.97 L148.39,539.06 L148.64,539.14 L148.89,539.19 L149.13,539.23 L149.38,539.25 L149.63,539.25 L149.88,539.23 L150.13,539.19 L150.37,539.14 L150.62,539.07 L150.87,538.98 L151.12,538.87 L151.37,538.75 L151.62,538.62 L151.86,538.46 L152.11,538.29 L152.36,538.11 L152.61,537.91 L152.86,537.70 L153.10,537.47 L153.35,537.23 L153.60,536.97 L153.85,536.71 L154.10,536.42 L154.35,536.13 L154.59,535.82 L154.84,535.50 L155.09,535.17 L155.34,534.83 L155.59,534.47 L155.83,534.10 L156.08,533.73 L156.33,533.34 L156.58,532.94 L156.83,532.53 L157.07,532.12 L157.32,531.69 L157.57,531.26 L157.82,530.81 L158.07,530.36 L158.32,529.90 L158.56,529.43 L158.81,528.95 L159.06,528.47 L159.31,527.98 L159.56,527.48 L159.80,526.97 L160.05,526.46 L160.30,525.95 L160.55,525.43 L160.80,524.90 L161.05,524.37 L161.29,523.83 L161.54,523.29 L161.79,522.75 L162.04,522.20 L162.29,521.64 L162.53,521.09 L162.78,520.53 L163.03,519.97 L163.28,519.41 L163.53,518.84 L163.78,518.27 L164.02,517.70 L164.27,517.13 L164.52,516.56 L164.77,515.99 L165.02,515.42 L165.26,514.85 L165.51,514.28 L165.76,513.71 L166.01,513.14 L166.26,512.57 L166.50,512.00 L166.75,511.43 L167.00,510.87 L167.25,510.30 L167.50,509.74 L167.75,509.18 L167.99,508.62 L168.24,508.06 L168.49,507.50 L168.74,506.95 L168.99,506.40 L169.23,505.85 L169.48,505.31 L169.73,504.77 L169.98,504.23 L170.23,503.69 L170.48,503.16 L170.72,502.63 L170.97,502.10 L171.22,501.58 L171.47,501.07 L171.72,500.55 L171.96,500.04 L172.21,499.54 L172.46,499.04 L172.71,498.55 L172.96,498.06 L173.21,497.57 L173.45,497.09 L173.70,496.62 L173.95,496.15 L174.20,495.69 L174.45,495.23 L174.69,494.79 L174.94,494.34 L175.19,493.90 L175.44,493.47 L175.69,493.05 L175.93,492.63 L176.18,492.22 L176.43,491.82 L176.68,491.43 L176.93,491.04 L177.18,490.66 L177.42,490.29 L177.67,489.92 L177.92,489.57 L178.17,489.22 L178.42,488.88 L178.66,488.55 L178.91,488.23 L179.16,487.91 L179.41,487.61 L179.66,487.32 L179.91,487.03 L180.15,486.76 L180.40,486.49 L180.65,486.23 L180.90,485.99 L181.15,485.75 L181.39,485.53 L181.64,485.31 L181.89,485.11 L182.14,484.92 L182.39,484.73 L182.64,484.56 L182.88,484.39 L183.13,484.24 L183.38,484.10 L183.63,483.96 L183.88,483.84 L184.12,483.72 L184.37,483.62 L184.62,483.52 L184.87,483.44 L185.12,483.36 L185.36,483.29 L185.61,483.24 L185.86,483.19 L186.11,483.15 L186.36,483.12 L186.61,483.09 L186.85,483.08 L187.10,483.08 L187.35,483.08 L187.60,483.09 L187.85,483.11 L188.09,483.14 L188.34,483.18 L188.59,483.23 L188.84,483.28 L189.09,483.34 L189.34,483.41 L189.58,483.49 L189.83,483.58 L190.08,483.67 L190.33,483.77 L190.58,483.88 L190.82,484.00 L191.07,484.12 L191.32,484.25 L191.57,484.39 L191.82,484.54 L192.06,484.69 L192.31,484.85 L192.56,485.02 L192.81,485.19 L193.06,485.37 L193.31,485.56 L193.55,485.75 L193.80,485.95 L194.05,486.16 L194.30,486.37 L194.55,486.59 L194.79,486.82 L195.04,487.05 L195.29,487.29 L195.54,487.53 L195.79,487.79 L196.04,488.04 L196.28,488.30 L196.53,488.57 L196.78,488.84 L197.03,489.12 L197.28,489.41 L197.52,489.70 L197.77,489.99 L198.02,490.29 L198.27,490.60 L198.52,490.91 L198.77,491.22 L199.01,491.54 L199.26,491.87 L199.51,492.20 L199.76,492.53 L200.01,492.87 L200.25,493.21 L200.50,493.55 L200.75,493.89 L201.00,494.24 L201.25,494.59 L201.49,494.95 L201.74,495.30 L201.99,495.66 L202.24,496.02 L202.49,496.38 L202.74,496.74 L202.98,497.10 L203.23,497.46 L203.48,497.83 L203.73,498.19 L203.98,498.55 L204.22,498.91 L204.47,499.28 L204.72,499.64 L204.97,500.00 L205.22,500.35 L205.47,500.71 L205.71,501.07 L205.96,501.42 L206.21,501.77 L206.46,502.12 L206.71,502.47 L206.95,502.81 L207.20,503.15 L207.45,503.48 L207.70,503.82 L207.95,504.15 L208.20,504.47 L208.44,504.79 L208.69,505.11 L208.94,505.42 L209.19,505.72 L209.44,506.02 L209.68,506.32 L209.93,506.61 L210.18,506.89 L210.43,507.17 L210.68,507.44 L210.92,507.70 L211.17,507.95 L211.42,508.20 L211.67,508.45 L211.92,508.68 L212.17,508.90 L212.41,509.12 L212.66,509.33 L212.91,509.53 L213.16,509.72 L213.41,509.91 L213.65,510.08 L213.90,510.24 L214.15,510.40 L214.40,510.54 L214.65,510.67 L214.90,510.80 L215.14,510.91 L215.39,511.01 L215.64,511.10 L215.89,511.18 L216.14,511.25 L216.38,511.31 L216.63,511.37 L216.88,511.41 L217.13,511.44 L217.38,511.46 L217.63,511.47 L217.87,511.48 L218.12,511.47 L218.37,511.46 L218.62,511.44 L218.87,511.40 L219.11,511.37 L219.36,511.32 L219.61,511.26 L219.86,511.20 L220.11,511.13 L220.35,511.05 L220.60,510.97 L220.85,510.88 L221.10,510.78 L221.35,510.67 L221.60,510.56 L221.84,510.44 L222.09,510.31 L222.34,510.18 L222.59,510.04 L222.84,509.90 L223.08,509.75 L223.33,509.59 L223.58,509.43 L223.83,509.27 L224.08,509.10 L224.33,508.92 L224.57,508.74 L224.82,508.56 L225.07,508.37 L225.32,508.17 L225.57,507.98 L225.81,507.77 L226.06,507.57 L226.31,507.36 L226.56,507.15 L226.81,506.93 L227.06,506.71 L227.30,506.49 L227.55,506.26 L227.80,506.04 L228.05,505.81 L228.30,505.57 L228.54,505.34 L228.79,505.10 L229.04,504.86 L229.29,504.62 L229.54,504.38 L229.78,504.13 L230.03,503.89 L230.28,503.64 L230.53,503.40 L230.78,503.15 L231.03,502.90 L231.27,502.65 L231.52,502.40 L231.77,502.15" fill="none" stroke="#000" stroke-width="0.95" clip-path="url(#cB)"/>
<path d="M398.10,231.10 L398.49,230.94 L398.88,230.79 L399.26,230.63 L399.65,230.47 L400.04,230.32 L400.43,230.16 L400.81,229.99 L401.20,229.83 L401.59,229.67 L401.98,229.50 L402.37,229.33 L402.75,229.16 L403.14,228.98 L403.53,228.80 L403.92,228.62 L404.30,228.44 L404.69,228.25 L405.08,228.05 L405.47,227.85 L405.86,227.65 L406.24,227.44 L406.63,227.23 L407.02,227.01 L407.41,226.79 L407.79,226.56 L408.18,226.32 L408.57,226.08 L408.96,225.83 L409.35,225.57 L409.73,225.31 L410.12,225.03 L410.51,224.76 L410.90,224.47 L411.28,224.17 L411.67,223.87 L412.06,223.56 L412.45,223.24 L412.84,222.90 L413.22,222.56 L413.61,222.21 L414.00,221.85 L414.39,221.49 L414.77,221.10 L415.16,220.71 L415.55,220.31 L415.94,219.90 L416.33,219.47 L416.71,219.04 L417.10,218.59 L417.49,218.13 L417.88,217.66 L418.26,217.17 L418.65,216.67 L419.04,216.16 L419.43,215.64 L419.82,215.10 L420.20,214.54 L420.59,213.98 L420.98,213.40 L421.37,212.80 L421.75,212.19 L422.14,211.56 L422.53,210.92 L422.92,210.26 L423.31,209.59 L423.69,208.90 L424.08,208.20 L424.47,207.47 L424.86,206.74 L425.24,205.98 L425.63,205.21 L426.02,204.41 L426.41,203.61 L426.80,202.78 L427.18,201.93 L427.57,201.07 L427.96,200.18 L428.35,199.28 L428.73,198.36 L429.12,197.42 L429.51,196.46 L429.90,195.48 L430.29,194.48 L430.67,193.46 L431.06,192.43 L431.45,191.38 L431.84,190.32 L432.22,189.24 L432.61,188.15 L433.00,187.04 L433.39,185.93 L433.78,184.80 L434.16,183.66 L434.55,182.52 L434.94,181.37 L435.33,180.20 L435.71,179.04 L436.10,177.86 L436.49,176.69 L436.88,175.51 L437.27,174.32 L437.65,173.13 L438.04,171.95 L438.43,170.76 L438.82,169.57 L439.20,168.38 L439.59,167.19 L439.98,166.01 L440.37,164.83 L440.76,163.66 L441.14,162.49 L441.53,161.33 L441.92,160.17 L442.31,159.02 L442.69,157.88 L443.08,156.76 L443.47,155.64 L443.86,154.53 L444.25,153.43 L444.63,152.35 L445.02,151.28 L445.41,150.23 L445.80,149.19 L446.18,148.17 L446.57,147.17 L446.96,146.18 L447.35,145.21 L447.74,144.27 L448.12,143.34 L448.51,142.43 L448.90,141.55 L449.29,140.69 L449.67,139.85 L450.06,139.03 L450.45,138.23 L450.84,137.44 L451.23,136.68 L451.61,135.93 L452.00,135.19 L452.39,134.47 L452.78,133.77 L453.16,133.08 L453.55,132.40 L453.94,131.73 L454.33,131.07 L454.72,130.42 L455.10,129.78 L455.49,129.14 L455.88,128.52 L456.27,127.90 L456.65,127.28 L457.04,126.67 L457.43,126.07 L457.82,125.46 L458.21,124.86 L458.59,124.26 L458.98,123.66 L459.37,123.05 L459.76,122.45 L460.14,121.84 L460.53,121.23 L460.92,120.62 L461.31,120.00 L461.70,119.38 L462.08,118.75 L462.47,118.11 L462.86,117.46 L463.25,116.80 L463.63,116.13 L464.02,115.45 L464.41,114.76 L464.80,114.07 L465.19,113.36 L465.57,112.66 L465.96,111.95 L466.35,111.24 L466.74,110.54 L467.12,109.84 L467.51,109.15 L467.90,108.47 L468.29,107.81 L468.68,107.16 L469.06,106.53 L469.45,105.92 L469.84,105.33 L470.23,104.75 L470.61,104.20 L471.00,103.67 L471.39,103.15 L471.78,102.66 L472.17,102.18 L472.55,101.72 L472.94,101.27 L473.33,100.84 L473.72,100.43 L474.10,100.03 L474.49,99.65 L474.88,99.28 L475.27,98.92 L475.66,98.58 L476.04,98.26 L476.43,97.94 L476.82,97.64 L477.21,97.35 L477.59,97.07 L477.98,96.80 L478.37,96.55 L478.76,96.30 L479.15,96.06 L479.53,95.83 L479.92,95.61 L480.31,95.40 L480.70,95.20 L481.08,95.01 L481.47,94.83 L481.86,94.66 L482.25,94.50 L482.64,94.35 L483.02,94.21 L483.41,94.09 L483.80,93.99 L484.19,93.90 L484.57,93.82 L484.96,93.77 L485.35,93.73 L485.74,93.71 L486.13,93.70 L486.51,93.72 L486.90,93.74 L487.29,93.78 L487.68,93.82 L488.06,93.87 L488.45,93.92 L488.84,93.98 L489.23,94.03 L489.62,94.08 L490.00,94.12 L490.39,94.16 L490.78,94.18 L491.17,94.19 L491.55,94.19 L491.94,94.16 L492.33,94.12 L492.72,94.05 L493.11,93.96 L493.49,93.84 L493.88,93.68 L494.27,93.50 L494.66,93.28 L495.04,93.03 L495.43,92.73 L495.82,92.39 L496.21,92.01 L496.60,91.58 L496.98,91.10 L497.37,90.57 L497.76,89.99 L498.15,89.36 L498.53,88.69 L498.92,87.99 L499.31,87.26 L499.70,86.51 L500.09,85.74 L500.47,84.96 L500.86,84.18 L501.25,83.40 L501.64,82.63 L502.02,81.87 L502.41,81.13 L502.80,80.42 L503.19,79.73 L503.58,79.05 L503.96,78.40 L504.35,77.78 L504.74,77.17 L505.13,76.59 L505.51,76.03 L505.90,75.49 L506.29,74.98 L506.68,74.49 L507.07,74.03 L507.45,73.58 L507.84,73.17 L508.23,72.77 L508.62,72.40 L509.01,72.06 L509.39,71.74 L509.78,71.44 L510.17,71.17 L510.56,70.93 L510.94,70.71 L511.33,70.51 L511.72,70.35 L512.11,70.20 L512.50,70.09 L512.88,70.00 L513.27,69.94 L513.66,69.90 L514.05,69.89 L514.43,69.91 L514.82,69.95 L515.21,70.01 L515.60,70.09 L515.99,70.18 L516.37,70.29 L516.76,70.40 L517.15,70.51 L517.54,70.63 L517.92,70.74 L518.31,70.85 L518.70,70.95 L519.09,71.04 L519.48,71.12 L519.86,71.17 L520.25,71.22 L520.64,71.24 L521.03,71.25 L521.41,71.25 L521.80,71.23 L522.19,71.20 L522.58,71.15 L522.97,71.10 L523.35,71.03 L523.74,70.95 L524.13,70.86 L524.52,70.76 L524.90,70.65 L525.29,70.53 L525.68,70.41 L526.07,70.27 L526.46,70.13 L526.84,69.98 L527.23,69.82 L527.62,69.66 L528.01,69.50 L528.39,69.33 L528.78,69.15 L529.17,68.97 L529.56,68.79 L529.95,68.61 L530.33,68.42 L530.72,68.23 L531.11,68.05 L531.50,67.86 L531.88,67.67 L532.27,67.48 L532.66,67.30 L533.05,67.12 L533.44,66.94 L533.82,66.76 L534.21,66.58 L534.60,66.41 L534.99,66.25 L535.37,66.09 L535.76,65.94 L536.15,65.79 L536.54,65.64 L536.93,65.50 L537.31,65.37 L537.70,65.24 L538.09,65.11 L538.48,64.99 L538.86,64.88 L539.25,64.76 L539.64,64.66 L540.03,64.56 L540.42,64.46 L540.80,64.37 L541.19,64.28 L541.58,64.19 L541.97,64.11 L542.35,64.04 L542.74,63.97 L543.13,63.90 L543.52,63.84 L543.91,63.78 L544.29,63.73 L544.68,63.68 L545.07,63.63 L545.46,63.59 L545.84,63.55 L546.23,63.52 L546.62,63.49 L547.01,63.46 L547.40,63.44 L547.78,63.42 L548.17,63.40 L548.56,63.39 L548.95,63.38 L549.33,63.38 L549.72,63.38 L550.11,63.38 L550.50,63.38 L550.89,63.39 L551.27,63.40 L551.66,63.42 L552.05,63.44 L552.44,63.46 L552.82,63.49 L553.21,63.51 L553.60,63.54 L553.99,63.58 L554.38,63.62 L554.76,63.66 L555.15,63.70 L555.54,63.74 L555.93,63.79 L556.31,63.84 L556.70,63.90 L557.09,63.95 L557.48,64.01 L557.87,64.07 L558.25,64.14 L558.64,64.20 L559.03,64.27 L559.42,64.34 L559.80,64.42 L560.19,64.49 L560.58,64.57 L560.97,64.65 L561.36,64.73 L561.74,64.82 L562.13,64.90 L562.52,64.99 L562.91,65.08 L563.29,65.18 L563.68,65.27 L564.07,65.37 L564.46,65.46 L564.85,65.56 L565.23,65.67 L565.62,65.77 L566.01,65.87 L566.40,65.98 L566.78,66.09 L567.17,66.20 L567.56,66.31 L567.95,66.42 L568.34,66.53 L568.72,66.65 L569.11,66.76 L569.50,66.88 L569.89,67.00 L570.27,67.12 L570.66,67.24 L571.05,67.36 L571.44,67.48 L571.83,67.60 L572.21,67.73 L572.60,67.85 L572.99,67.98 L573.38,68.11 L573.76,68.23 L574.15,68.36 L574.54,68.49 L574.93,68.62 L575.32,68.75 L575.70,68.88 L576.09,69.01 L576.48,69.14 L576.87,69.27 L577.25,69.40 L577.64,69.54 L578.03,69.67 L578.42,69.80 L578.81,69.93 L579.19,70.07 L579.58,70.20 L579.97,70.33 L580.36,70.47 L580.74,70.60 L581.13,70.73 L581.52,70.87 L581.91,71.00 L582.30,71.14 L582.68,71.27 L583.07,71.41 L583.46,71.54 L583.85,71.67 L584.23,71.81 L584.62,71.94 L585.01,72.08 L585.40,72.22 L585.79,72.35 L586.17,72.49 L586.56,72.62 L586.95,72.76 L587.34,72.89 L587.72,73.03 L588.11,73.16 L588.50,73.30 L588.89,73.44 L589.28,73.57 L589.66,73.71 L590.05,73.84 L590.44,73.98 L590.83,74.11 L591.21,74.25 L591.60,74.39" fill="none" stroke="#000" stroke-width="0.95" clip-path="url(#cC)"/>
<path d="M448.80,231.10 L449.09,229.98 L449.38,228.87 L449.66,227.75 L449.95,226.64 L450.24,225.53 L450.52,224.42 L450.81,223.32 L451.10,222.22 L451.38,221.12 L451.67,220.03 L451.96,218.94 L452.24,217.86 L452.53,216.79 L452.82,215.72 L453.10,214.66 L453.39,213.61 L453.68,212.57 L453.96,211.53 L454.25,210.51 L454.54,209.50 L454.82,208.49 L455.11,207.50 L455.40,206.52 L455.68,205.55 L455.97,204.60 L456.26,203.66 L456.54,202.73 L456.83,201.82 L457.12,200.92 L457.40,200.04 L457.69,199.18 L457.97,198.33 L458.26,197.49 L458.55,196.68 L458.83,195.89 L459.12,195.11 L459.41,194.35 L459.69,193.61 L459.98,192.90 L460.27,192.20 L460.55,191.53 L460.84,190.87 L461.13,190.24 L461.41,189.64 L461.70,189.05 L461.99,188.50 L462.27,187.96 L462.56,187.45 L462.85,186.97 L463.13,186.51 L463.42,186.08 L463.71,185.68 L463.99,185.31 L464.28,184.96 L464.57,184.65 L464.85,184.36 L465.14,184.09 L465.43,183.85 L465.71,183.63 L466.00,183.43 L466.29,183.24 L466.57,183.07 L466.86,182.90 L467.15,182.75 L467.43,182.60 L467.72,182.46 L468.01,182.31 L468.29,182.17 L468.58,182.02 L468.87,181.87 L469.15,181.71 L469.44,181.54 L469.73,181.36 L470.01,181.18 L470.30,180.98 L470.58,180.78 L470.87,180.56 L471.16,180.34 L471.44,180.11 L471.73,179.88 L472.02,179.64 L472.30,179.39 L472.59,179.14 L472.88,178.88 L473.16,178.62 L473.45,178.35 L473.74,178.08 L474.02,177.80 L474.31,177.52 L474.60,177.24 L474.88,176.95 L475.17,176.66 L475.46,176.37 L475.74,176.08 L476.03,175.78 L476.32,175.49 L476.60,175.19 L476.89,174.89 L477.18,174.60 L477.46,174.30 L477.75,174.00 L478.04,173.71 L478.32,173.42 L478.61,173.12 L478.90,172.84 L479.18,172.55 L479.47,172.26 L479.76,171.98 L480.04,171.71 L480.33,171.43 L480.62,171.17 L480.90,170.90 L481.19,170.64 L481.48,170.38 L481.76,170.12 L482.05,169.86 L482.34,169.59 L482.62,169.33 L482.91,169.05 L483.19,168.77 L483.48,168.49 L483.77,168.19 L484.05,167.88 L484.34,167.56 L484.63,167.23 L484.91,166.88 L485.20,166.51 L485.49,166.13 L485.77,165.73 L486.06,165.31 L486.35,164.88 L486.63,164.43 L486.92,163.97 L487.21,163.49 L487.49,162.99 L487.78,162.49 L488.07,161.97 L488.35,161.43 L488.64,160.89 L488.93,160.34 L489.21,159.78 L489.50,159.20 L489.79,158.62 L490.07,158.03 L490.36,157.44 L490.65,156.84 L490.93,156.23 L491.22,155.61 L491.51,155.00 L491.79,154.37 L492.08,153.75 L492.37,153.12 L492.65,152.49 L492.94,151.86 L493.23,151.23 L493.51,150.60 L493.80,149.97 L494.09,149.34 L494.37,148.72 L494.66,148.10 L494.95,147.48 L495.23,146.86 L495.52,146.25 L495.80,145.65 L496.09,145.05 L496.38,144.46 L496.66,143.87 L496.95,143.30 L497.24,142.73 L497.52,142.18 L497.81,141.63 L498.10,141.09 L498.38,140.57 L498.67,140.05 L498.96,139.54 L499.24,139.04 L499.53,138.54 L499.82,138.04 L500.10,137.55 L500.39,137.06 L500.68,136.57 L500.96,136.08 L501.25,135.58 L501.54,135.08 L501.82,134.58 L502.11,134.08 L502.40,133.56 L502.68,133.04 L502.97,132.52 L503.26,131.98 L503.54,131.44 L503.83,130.89 L504.12,130.33 L504.40,129.76 L504.69,129.19 L504.98,128.62 L505.26,128.03 L505.55,127.45 L505.84,126.85 L506.12,126.25 L506.41,125.65 L506.70,125.04 L506.98,124.43 L507.27,123.82 L507.55,123.20 L507.84,122.58 L508.13,121.95 L508.41,121.32 L508.70,120.69 L508.99,120.06 L509.27,119.43 L509.56,118.79 L509.85,118.15 L510.13,117.52 L510.42,116.88 L510.71,116.24 L510.99,115.60 L511.28,114.96 L511.57,114.32 L511.85,113.68 L512.14,113.04 L512.43,112.41 L512.71,111.77 L513.00,111.14 L513.29,110.51 L513.57,109.88 L513.86,109.25 L514.15,108.63 L514.43,108.01 L514.72,107.39 L515.01,106.77 L515.29,106.16 L515.58,105.55 L515.87,104.95 L516.15,104.34 L516.44,103.74 L516.73,103.14 L517.01,102.54 L517.30,101.94 L517.59,101.34 L517.87,100.74 L518.16,100.14 L518.45,99.54 L518.73,98.93 L519.02,98.33 L519.31,97.73 L519.59,97.12 L519.88,96.51 L520.16,95.90 L520.45,95.28 L520.74,94.67 L521.02,94.05 L521.31,93.43 L521.60,92.81 L521.88,92.19 L522.17,91.57 L522.46,90.95 L522.74,90.32 L523.03,89.70 L523.32,89.08 L523.60,88.46 L523.89,87.83 L524.18,87.21 L524.46,86.59 L524.75,85.98 L525.04,85.36 L525.32,84.74 L525.61,84.13 L525.90,83.52 L526.18,82.91 L526.47,82.30 L526.76,81.70 L527.04,81.09 L527.33,80.50 L527.62,79.90 L527.90,79.31 L528.19,78.72 L528.48,78.14 L528.76,77.56 L529.05,76.98 L529.34,76.41 L529.62,75.85 L529.91,75.29 L530.20,74.73 L530.48,74.18 L530.77,73.64 L531.06,73.10 L531.34,72.57 L531.63,72.05 L531.92,71.53 L532.20,71.01 L532.49,70.51 L532.77,70.01 L533.06,69.52 L533.35,69.04 L533.63,68.57 L533.92,68.10 L534.21,67.64 L534.49,67.19 L534.78,66.75 L535.07,66.32 L535.35,65.90 L535.64,65.48 L535.93,65.08 L536.21,64.68 L536.50,64.29 L536.79,63.91 L537.07,63.54 L537.36,63.18 L537.65,62.82 L537.93,62.47 L538.22,62.13 L538.51,61.80 L538.79,61.48 L539.08,61.16 L539.37,60.85 L539.65,60.55 L539.94,60.26 L540.23,59.97 L540.51,59.69 L540.80,59.42 L541.09,59.16 L541.37,58.90 L541.66,58.65 L541.95,58.40 L542.23,58.16 L542.52,57.93 L542.81,57.71 L543.09,57.49 L543.38,57.28 L543.67,57.07 L543.95,56.87 L544.24,56.68 L544.52,56.49 L544.81,56.31 L545.10,56.14 L545.38,55.97 L545.67,55.80 L545.96,55.64 L546.24,55.49 L546.53,55.34 L546.82,55.20 L547.10,55.06 L547.39,54.93 L547.68,54.80 L547.96,54.68 L548.25,54.56 L548.54,54.44 L548.82,54.34 L549.11,54.23 L549.40,54.13 L549.68,54.04 L549.97,53.94 L550.26,53.86 L550.54,53.77 L550.83,53.70 L551.12,53.62 L551.40,53.55 L551.69,53.48 L551.98,53.42 L552.26,53.36 L552.55,53.30 L552.84,53.25 L553.12,53.20 L553.41,53.15 L553.70,53.10 L553.98,53.06 L554.27,53.02 L554.56,52.99 L554.84,52.96 L555.13,52.93 L555.42,52.90 L555.70,52.87 L555.99,52.85 L556.28,52.83 L556.56,52.81 L556.85,52.80 L557.13,52.78 L557.42,52.77 L557.71,52.76 L557.99,52.75 L558.28,52.74 L558.57,52.74 L558.85,52.73 L559.14,52.73 L559.43,52.73 L559.71,52.73 L560.00,52.73 L560.29,52.73 L560.57,52.73 L560.86,52.74 L561.15,52.74 L561.43,52.75 L561.72,52.75 L562.01,52.76 L562.29,52.76 L562.58,52.77 L562.87,52.78 L563.15,52.79 L563.44,52.79 L563.73,52.80 L564.01,52.81 L564.30,52.81 L564.59,52.82 L564.87,52.82 L565.16,52.83 L565.45,52.83 L565.73,52.84 L566.02,52.84 L566.31,52.84 L566.59,52.84 L566.88,52.84 L567.17,52.84 L567.45,52.84 L567.74,52.84 L568.03,52.83 L568.31,52.83 L568.60,52.82 L568.89,52.81 L569.17,52.80 L569.46,52.78 L569.74,52.77 L570.03,52.75 L570.32,52.73 L570.60,52.71 L570.89,52.69 L571.18,52.66 L571.46,52.63 L571.75,52.60 L572.04,52.56 L572.32,52.53 L572.61,52.49 L572.90,52.44 L573.18,52.40 L573.47,52.35 L573.76,52.30 L574.04,52.24 L574.33,52.18 L574.62,52.12 L574.90,52.05 L575.19,51.98 L575.48,51.91 L575.76,51.83 L576.05,51.75 L576.34,51.66 L576.62,51.58 L576.91,51.48 L577.20,51.38 L577.48,51.28 L577.77,51.17 L578.06,51.06 L578.34,50.95 L578.63,50.83 L578.92,50.70 L579.20,50.57 L579.49,50.44 L579.78,50.31 L580.06,50.17 L580.35,50.02 L580.64,49.87 L580.92,49.72 L581.21,49.57 L581.49,49.41 L581.78,49.25 L582.07,49.09 L582.35,48.92 L582.64,48.75 L582.93,48.57 L583.21,48.40 L583.50,48.22 L583.79,48.04 L584.07,47.85 L584.36,47.67 L584.65,47.48 L584.93,47.29 L585.22,47.09 L585.51,46.90 L585.79,46.70 L586.08,46.50 L586.37,46.30 L586.65,46.10 L586.94,45.89 L587.23,45.69 L587.51,45.48 L587.80,45.27 L588.09,45.06 L588.37,44.85 L588.66,44.63 L588.95,44.42 L589.23,44.21 L589.52,43.99 L589.81,43.77 L590.09,43.56 L590.38,43.34 L590.67,43.12 L590.95,42.91 L591.24,42.69 L591.53,42.47 L591.81,42.25" fill="none" stroke="#000" stroke-width="0.95" clip-path="url(#cC)"/>
<path d="M428.80,435.79 L429.13,436.64 L429.45,437.49 L429.78,438.33 L430.10,439.18 L430.43,440.02 L430.76,440.87 L431.08,441.71 L431.41,442.55 L431.74,443.39 L432.06,444.22 L432.39,445.06 L432.71,445.89 L433.04,446.71 L433.37,447.54 L433.69,448.36 L434.02,449.18 L434.34,449.99 L434.67,450.80 L435.00,451.61 L435.32,452.41 L435.65,453.21 L435.98,454.00 L436.30,454.79 L436.63,455.57 L436.95,456.34 L437.28,457.11 L437.61,457.87 L437.93,458.63 L438.26,459.38 L438.58,460.12 L438.91,460.86 L439.24,461.59 L439.56,462.31 L439.89,463.02 L440.22,463.73 L440.54,464.42 L440.87,465.11 L441.19,465.79 L441.52,466.46 L441.85,467.12 L442.17,467.77 L442.50,468.42 L442.82,469.05 L443.15,469.67 L443.48,470.28 L443.80,470.88 L444.13,471.47 L444.46,472.05 L444.78,472.61 L445.11,473.17 L445.43,473.71 L445.76,474.24 L446.09,474.76 L446.41,475.27 L446.74,475.76 L447.06,476.24 L447.39,476.71 L447.72,477.16 L448.04,477.60 L448.37,478.03 L448.70,478.44 L449.02,478.83 L449.35,479.22 L449.67,479.59 L450.00,479.95 L450.33,480.29 L450.65,480.63 L450.98,480.95 L451.30,481.26 L451.63,481.56 L451.96,481.85 L452.28,482.13 L452.61,482.39 L452.94,482.65 L453.26,482.90 L453.59,483.15 L453.91,483.38 L454.24,483.60 L454.57,483.82 L454.89,484.03 L455.22,484.24 L455.54,484.43 L455.87,484.62 L456.20,484.81 L456.52,484.99 L456.85,485.16 L457.18,485.33 L457.50,485.50 L457.83,485.66 L458.15,485.82 L458.48,485.97 L458.81,486.12 L459.13,486.27 L459.46,486.42 L459.78,486.56 L460.11,486.70 L460.44,486.85 L460.76,486.99 L461.09,487.13 L461.42,487.27 L461.74,487.41 L462.07,487.55 L462.39,487.69 L462.72,487.84 L463.05,487.99 L463.37,488.13 L463.70,488.28 L464.02,488.44 L464.35,488.60 L464.68,488.76 L465.00,488.92 L465.33,489.09 L465.66,489.26 L465.98,489.43 L466.31,489.61 L466.63,489.80 L466.96,489.99 L467.29,490.18 L467.61,490.38 L467.94,490.58 L468.26,490.79 L468.59,491.01 L468.92,491.23 L469.24,491.45 L469.57,491.69 L469.90,491.92 L470.22,492.17 L470.55,492.41 L470.87,492.66 L471.20,492.92 L471.53,493.18 L471.85,493.45 L472.18,493.72 L472.50,493.99 L472.83,494.27 L473.16,494.55 L473.48,494.83 L473.81,495.12 L474.14,495.41 L474.46,495.70 L474.79,496.00 L475.11,496.30 L475.44,496.60 L475.77,496.90 L476.09,497.21 L476.42,497.51 L476.74,497.82 L477.07,498.13 L477.40,498.44 L477.72,498.76 L478.05,499.07 L478.38,499.39 L478.70,499.70 L479.03,500.02 L479.35,500.33 L479.68,500.65 L480.01,500.97 L480.33,501.28 L480.66,501.60 L480.98,501.91 L481.31,502.22 L481.64,502.53 L481.96,502.83 L482.29,503.13 L482.62,503.41 L482.94,503.68 L483.27,503.94 L483.59,504.18 L483.92,504.40 L484.25,504.60 L484.57,504.78 L484.90,504.94 L485.22,505.07 L485.55,505.18 L485.88,505.26 L486.20,505.31 L486.53,505.33 L486.86,505.33 L487.18,505.31 L487.51,505.26 L487.83,505.18 L488.16,505.09 L488.49,504.97 L488.81,504.84 L489.14,504.68 L489.46,504.50 L489.79,504.31 L490.12,504.10 L490.44,503.87 L490.77,503.63 L491.10,503.37 L491.42,503.10 L491.75,502.81 L492.07,502.52 L492.40,502.21 L492.73,501.89 L493.05,501.56 L493.38,501.22 L493.70,500.88 L494.03,500.52 L494.36,500.16 L494.68,499.80 L495.01,499.43 L495.34,499.05 L495.66,498.68 L495.99,498.30 L496.31,497.91 L496.64,497.53 L496.97,497.15 L497.29,496.77 L497.62,496.39 L497.94,496.02 L498.27,495.65 L498.60,495.30 L498.92,494.96 L499.25,494.64 L499.58,494.33 L499.90,494.06 L500.23,493.80 L500.55,493.58 L500.88,493.38 L501.21,493.23 L501.53,493.10 L501.86,493.02 L502.18,492.99 L502.51,493.00 L502.84,493.05 L503.16,493.15 L503.49,493.28 L503.82,493.46 L504.14,493.67 L504.47,493.92 L504.79,494.20 L505.12,494.51 L505.45,494.85 L505.77,495.22 L506.10,495.61 L506.42,496.02 L506.75,496.45 L507.08,496.90 L507.40,497.36 L507.73,497.84 L508.06,498.33 L508.38,498.84 L508.71,499.34 L509.03,499.86 L509.36,500.38 L509.69,500.89 L510.01,501.41 L510.34,501.93 L510.66,502.44 L510.99,502.94 L511.32,503.44 L511.64,503.92 L511.97,504.39 L512.29,504.85 L512.62,505.29 L512.95,505.70 L513.27,506.10 L513.60,506.48 L513.93,506.82 L514.25,507.14 L514.58,507.44 L514.90,507.70 L515.23,507.94 L515.56,508.15 L515.88,508.34 L516.21,508.50 L516.53,508.65 L516.86,508.77 L517.19,508.88 L517.51,508.97 L517.84,509.04 L518.17,509.10 L518.49,509.15 L518.82,509.18 L519.14,509.20 L519.47,509.22 L519.80,509.22 L520.12,509.22 L520.45,509.20 L520.77,509.18 L521.10,509.15 L521.43,509.12 L521.75,509.07 L522.08,509.02 L522.41,508.96 L522.73,508.90 L523.06,508.83 L523.38,508.75 L523.71,508.67 L524.04,508.58 L524.36,508.49 L524.69,508.40 L525.01,508.30 L525.34,508.19 L525.67,508.08 L525.99,507.97 L526.32,507.86 L526.65,507.74 L526.97,507.62 L527.30,507.50 L527.62,507.38 L527.95,507.26 L528.28,507.13 L528.60,507.01 L528.93,506.88 L529.25,506.76 L529.58,506.63 L529.91,506.51 L530.23,506.38 L530.56,506.26 L530.89,506.14 L531.21,506.02 L531.54,505.90 L531.86,505.79 L532.19,505.68 L532.52,505.57 L532.84,505.46 L533.17,505.36 L533.49,505.27 L533.82,505.17 L534.15,505.08 L534.47,505.00 L534.80,504.92 L535.13,504.85 L535.45,504.78 L535.78,504.72 L536.10,504.66 L536.43,504.61 L536.76,504.56 L537.08,504.52 L537.41,504.48 L537.73,504.45 L538.06,504.42 L538.39,504.40 L538.71,504.38 L539.04,504.37 L539.37,504.36 L539.69,504.35 L540.02,504.35 L540.34,504.36 L540.67,504.36 L541.00,504.38 L541.32,504.39 L541.65,504.41 L541.97,504.44 L542.30,504.46 L542.63,504.49 L542.95,504.53 L543.28,504.57 L543.61,504.61 L543.93,504.66 L544.26,504.71 L544.58,504.76 L544.91,504.82 L545.24,504.88 L545.56,504.94 L545.89,505.01 L546.21,505.07 L546.54,505.15 L546.87,505.22 L547.19,505.30 L547.52,505.38 L547.85,505.47 L548.17,505.55 L548.50,505.64 L548.82,505.73 L549.15,505.83 L549.48,505.92 L549.80,506.02 L550.13,506.12 L550.45,506.23 L550.78,506.33 L551.11,506.44 L551.43,506.55 L551.76,506.66 L552.09,506.78 L552.41,506.89 L552.74,507.01 L553.06,507.13 L553.39,507.25 L553.72,507.38 L554.04,507.50 L554.37,507.63 L554.69,507.75 L555.02,507.88 L555.35,508.01 L555.67,508.14 L556.00,508.27 L556.33,508.41 L556.65,508.54 L556.98,508.68 L557.30,508.81 L557.63,508.95 L557.96,509.09 L558.28,509.23 L558.61,509.37 L558.93,509.51 L559.26,509.65 L559.59,509.79 L559.91,509.93 L560.24,510.07 L560.57,510.21 L560.89,510.35 L561.22,510.50 L561.54,510.64 L561.87,510.78 L562.20,510.92 L562.52,511.06 L562.85,511.21 L563.17,511.35 L563.50,511.49 L563.83,511.63 L564.15,511.77 L564.48,511.91 L564.81,512.05 L565.13,512.19 L565.46,512.33 L565.78,512.46 L566.11,512.60 L566.44,512.73 L566.76,512.87 L567.09,513.00 L567.41,513.14 L567.74,513.27 L568.07,513.40 L568.39,513.52 L568.72,513.65 L569.05,513.78 L569.37,513.90 L569.70,514.02 L570.02,514.15 L570.35,514.27 L570.68,514.38 L571.00,514.50 L571.33,514.61 L571.65,514.73 L571.98,514.84 L572.31,514.94 L572.63,515.05 L572.96,515.15 L573.29,515.25 L573.61,515.35 L573.94,515.45 L574.26,515.54 L574.59,515.64 L574.92,515.73 L575.24,515.81 L575.57,515.90 L575.89,515.98 L576.22,516.05 L576.55,516.13 L576.87,516.20 L577.20,516.27 L577.53,516.34 L577.85,516.40 L578.18,516.46 L578.50,516.52 L578.83,516.57 L579.16,516.62 L579.48,516.67 L579.81,516.72 L580.13,516.76 L580.46,516.80 L580.79,516.84 L581.11,516.87 L581.44,516.90 L581.77,516.93 L582.09,516.96 L582.42,516.99 L582.74,517.01 L583.07,517.04 L583.40,517.06 L583.72,517.07 L584.05,517.09 L584.37,517.11 L584.70,517.12 L585.03,517.13 L585.35,517.14 L585.68,517.15 L586.01,517.16 L586.33,517.16 L586.66,517.17 L586.98,517.17 L587.31,517.18 L587.64,517.18 L587.96,517.18 L588.29,517.18 L588.61,517.18 L588.94,517.18 L589.27,517.18 L589.59,517.17 L589.92,517.17 L590.25,517.17 L590.57,517.16 L590.90,517.16 L591.22,517.16 L591.55,517.15" fill="none" stroke="#000" stroke-width="0.95" clip-path="url(#cD)"/>
<path d="M448.61,378.77 L448.90,377.54 L449.18,376.32 L449.47,375.11 L449.76,373.92 L450.04,372.75 L450.33,371.62 L450.62,370.52 L450.90,369.47 L451.19,368.46 L451.48,367.52 L451.76,366.63 L452.05,365.82 L452.34,365.08 L452.62,364.42 L452.91,363.84 L453.20,363.37 L453.48,362.99 L453.77,362.72 L454.06,362.55 L454.34,362.50 L454.63,362.55 L454.92,362.70 L455.20,362.96 L455.49,363.33 L455.77,363.80 L456.06,364.37 L456.35,365.04 L456.63,365.81 L456.92,366.68 L457.21,367.65 L457.49,368.71 L457.78,369.88 L458.07,371.14 L458.35,372.49 L458.64,373.94 L458.93,375.49 L459.21,377.13 L459.50,378.85 L459.79,380.67 L460.07,382.58 L460.36,384.58 L460.65,386.67 L460.93,388.85 L461.22,391.11 L461.51,393.46 L461.79,395.90 L462.08,398.42 L462.37,401.02 L462.65,403.71 L462.94,406.47 L463.23,409.32 L463.51,412.25 L463.80,415.26 L464.09,418.35 L464.37,421.51 L464.66,424.73 L464.95,428.00 L465.23,431.30 L465.52,434.62 L465.81,437.94 L466.09,441.24 L466.38,444.52 L466.67,447.74 L466.95,450.91 L467.24,454.00 L467.53,456.99 L467.81,459.88 L468.10,462.65 L468.38,465.28 L468.67,467.75 L468.96,470.06 L469.24,472.19 L469.53,474.13 L469.82,475.90 L470.10,477.51 L470.39,478.95 L470.68,480.25 L470.96,481.39 L471.25,482.40 L471.54,483.27 L471.82,484.02 L472.11,484.65 L472.40,485.16 L472.68,485.56 L472.97,485.87 L473.26,486.08 L473.54,486.20 L473.83,486.25 L474.12,486.21 L474.40,486.10 L474.69,485.92 L474.98,485.66 L475.26,485.34 L475.55,484.95 L475.84,484.50 L476.12,483.99 L476.41,483.42 L476.70,482.80 L476.98,482.13 L477.27,481.40 L477.56,480.63 L477.84,479.82 L478.13,478.96 L478.42,478.06 L478.70,477.13 L478.99,476.17 L479.28,475.17 L479.56,474.14 L479.85,473.09 L480.14,472.02 L480.42,470.92 L480.71,469.81 L481.00,468.68 L481.28,467.53 L481.57,466.38 L481.85,465.21 L482.14,464.04 L482.43,462.87 L482.71,461.68 L483.00,460.50 L483.29,459.32 L483.57,458.14 L483.86,456.97 L484.15,455.81 L484.43,454.65 L484.72,453.50 L485.01,452.37 L485.29,451.25 L485.58,450.15 L485.87,449.07 L486.15,448.01 L486.44,446.97 L486.73,445.94 L487.01,444.94 L487.30,443.96 L487.59,443.01 L487.87,442.07 L488.16,441.16 L488.45,440.27 L488.73,439.41 L489.02,438.58 L489.31,437.77 L489.59,436.98 L489.88,436.23 L490.17,435.50 L490.45,434.80 L490.74,434.13 L491.03,433.48 L491.31,432.87 L491.60,432.29 L491.89,431.74 L492.17,431.23 L492.46,430.74 L492.75,430.29 L493.03,429.87 L493.32,429.49 L493.61,429.15 L493.89,428.83 L494.18,428.56 L494.46,428.32 L494.75,428.12 L495.04,427.96 L495.32,427.84 L495.61,427.75 L495.90,427.71 L496.18,427.71 L496.47,427.75 L496.76,427.83 L497.04,427.95 L497.33,428.12 L497.62,428.33 L497.90,428.57 L498.19,428.86 L498.48,429.17 L498.76,429.51 L499.05,429.87 L499.34,430.25 L499.62,430.65 L499.91,431.05 L500.20,431.46 L500.48,431.86 L500.77,432.26 L501.06,432.66 L501.34,433.04 L501.63,433.40 L501.92,433.74 L502.20,434.06 L502.49,434.34 L502.78,434.59 L503.06,434.82 L503.35,435.02 L503.64,435.19 L503.92,435.33 L504.21,435.45 L504.50,435.54 L504.78,435.61 L505.07,435.65 L505.36,435.68 L505.64,435.68 L505.93,435.66 L506.22,435.63 L506.50,435.57 L506.79,435.50 L507.08,435.41 L507.36,435.31 L507.65,435.19 L507.93,435.06 L508.22,434.92 L508.51,434.76 L508.79,434.59 L509.08,434.42 L509.37,434.23 L509.65,434.04 L509.94,433.84 L510.23,433.63 L510.51,433.42 L510.80,433.20 L511.09,432.98 L511.37,432.76 L511.66,432.53 L511.95,432.31 L512.23,432.09 L512.52,431.86 L512.81,431.64 L513.09,431.42 L513.38,431.21 L513.67,431.00 L513.95,430.80 L514.24,430.60 L514.53,430.41 L514.81,430.23 L515.10,430.06 L515.39,429.90 L515.67,429.76 L515.96,429.63 L516.25,429.51 L516.53,429.41 L516.82,429.33 L517.11,429.27 L517.39,429.22 L517.68,429.20 L517.97,429.20 L518.25,429.23 L518.54,429.28 L518.83,429.36 L519.11,429.47 L519.40,429.60 L519.69,429.76 L519.97,429.95 L520.26,430.17 L520.54,430.41 L520.83,430.68 L521.12,430.97 L521.40,431.29 L521.69,431.63 L521.98,432.00 L522.26,432.38 L522.55,432.79 L522.84,433.22 L523.12,433.67 L523.41,434.14 L523.70,434.63 L523.98,435.14 L524.27,435.66 L524.56,436.21 L524.84,436.76 L525.13,437.34 L525.42,437.93 L525.70,438.53 L525.99,439.15 L526.28,439.78 L526.56,440.42 L526.85,441.08 L527.14,441.74 L527.42,442.42 L527.71,443.11 L528.00,443.80 L528.28,444.51 L528.57,445.22 L528.86,445.94 L529.14,446.67 L529.43,447.40 L529.72,448.14 L530.00,448.88 L530.29,449.62 L530.58,450.37 L530.86,451.13 L531.15,451.88 L531.44,452.63 L531.72,453.39 L532.01,454.15 L532.30,454.90 L532.58,455.66 L532.87,456.41 L533.15,457.16 L533.44,457.90 L533.73,458.65 L534.01,459.38 L534.30,460.12 L534.59,460.84 L534.87,461.56 L535.16,462.28 L535.45,462.98 L535.73,463.68 L536.02,464.38 L536.31,465.06 L536.59,465.74 L536.88,466.42 L537.17,467.08 L537.45,467.74 L537.74,468.39 L538.03,469.04 L538.31,469.68 L538.60,470.31 L538.89,470.94 L539.17,471.56 L539.46,472.17 L539.75,472.78 L540.03,473.38 L540.32,473.97 L540.61,474.56 L540.89,475.13 L541.18,475.71 L541.47,476.27 L541.75,476.84 L542.04,477.39 L542.33,477.94 L542.61,478.48 L542.90,479.01 L543.19,479.54 L543.47,480.06 L543.76,480.57 L544.05,481.08 L544.33,481.58 L544.62,482.08 L544.91,482.57 L545.19,483.05 L545.48,483.53 L545.77,484.00 L546.05,484.46 L546.34,484.92 L546.62,485.37 L546.91,485.81 L547.20,486.25 L547.48,486.68 L547.77,487.11 L548.06,487.53 L548.34,487.94 L548.63,488.35 L548.92,488.75 L549.20,489.14 L549.49,489.53 L549.78,489.91 L550.06,490.28 L550.35,490.65 L550.64,491.02 L550.92,491.37 L551.21,491.72 L551.50,492.07 L551.78,492.41 L552.07,492.74 L552.36,493.07 L552.64,493.39 L552.93,493.70 L553.22,494.01 L553.50,494.31 L553.79,494.61 L554.08,494.89 L554.36,495.18 L554.65,495.46 L554.94,495.73 L555.22,495.99 L555.51,496.25 L555.80,496.51 L556.08,496.75 L556.37,497.00 L556.66,497.23 L556.94,497.46 L557.23,497.69 L557.52,497.90 L557.80,498.12 L558.09,498.32 L558.38,498.52 L558.66,498.72 L558.95,498.90 L559.23,499.09 L559.52,499.26 L559.81,499.44 L560.09,499.60 L560.38,499.76 L560.67,499.91 L560.95,500.06 L561.24,500.20 L561.53,500.34 L561.81,500.47 L562.10,500.60 L562.39,500.71 L562.67,500.83 L562.96,500.94 L563.25,501.04 L563.53,501.13 L563.82,501.23 L564.11,501.31 L564.39,501.39 L564.68,501.46 L564.97,501.53 L565.25,501.59 L565.54,501.65 L565.83,501.70 L566.11,501.75 L566.40,501.79 L566.69,501.82 L566.97,501.85 L567.26,501.88 L567.55,501.89 L567.83,501.91 L568.12,501.91 L568.41,501.92 L568.69,501.91 L568.98,501.90 L569.27,501.89 L569.55,501.87 L569.84,501.84 L570.13,501.81 L570.41,501.78 L570.70,501.73 L570.99,501.69 L571.27,501.63 L571.56,501.58 L571.85,501.51 L572.13,501.44 L572.42,501.37 L572.70,501.29 L572.99,501.21 L573.28,501.12 L573.56,501.02 L573.85,500.92 L574.14,500.82 L574.42,500.71 L574.71,500.59 L575.00,500.47 L575.28,500.34 L575.57,500.21 L575.86,500.07 L576.14,499.93 L576.43,499.78 L576.72,499.63 L577.00,499.47 L577.29,499.31 L577.58,499.14 L577.86,498.97 L578.15,498.79 L578.44,498.61 L578.72,498.43 L579.01,498.23 L579.30,498.04 L579.58,497.84 L579.87,497.64 L580.16,497.43 L580.44,497.21 L580.73,497.00 L581.02,496.78 L581.30,496.55 L581.59,496.33 L581.88,496.10 L582.16,495.86 L582.45,495.62 L582.74,495.38 L583.02,495.14 L583.31,494.89 L583.60,494.64 L583.88,494.39 L584.17,494.14 L584.46,493.88 L584.74,493.62 L585.03,493.35 L585.31,493.09 L585.60,492.82 L585.89,492.55 L586.17,492.28 L586.46,492.01 L586.75,491.73 L587.03,491.45 L587.32,491.18 L587.61,490.90 L587.89,490.61 L588.18,490.33 L588.47,490.05 L588.75,489.76 L589.04,489.48 L589.33,489.19 L589.61,488.90 L589.90,488.61 L590.19,488.32 L590.47,488.03 L590.76,487.74 L591.05,487.45 L591.33,487.16 L591.62,486.87" fill="none" stroke="#000" stroke-width="0.95" clip-path="url(#cD)"/>
<circle cx="74.99" cy="230.80" r="2.75" fill="#fff" stroke="#000" stroke-width="0.8"/>
<circle cx="78.21" cy="230.80" r="2.75" fill="#fff" stroke="#000" stroke-width="0.8"/>
<circle cx="81.29" cy="230.80" r="2.75" fill="#fff" stroke="#000" stroke-width="0.8"/>
<circle cx="92.00" cy="229.15" r="2.75" fill="#fff" stroke="#000" stroke-width="0.8"/>
<circle cx="94.87" cy="225.86" r="2.75" fill="#fff" stroke="#000" stroke-width="0.8"/>
<circle cx="98.37" cy="219.88" r="2.75" fill="#fff" stroke="#000" stroke-width="0.8"/>
<circle cx="108.52" cy="200.88" r="2.75" fill="#fff" stroke="#000" stroke-width="0.8"/>
<circle cx="111.25" cy="196.39" r="2.75" fill="#fff" stroke="#000" stroke-width="0.8"/>
<circle cx="115.10" cy="190.26" r="2.75" fill="#fff" stroke="#000" stroke-width="0.8"/>
<circle cx="129.80" cy="141.04" r="2.75" fill="#fff" stroke="#000" stroke-width="0.8"/>
<circle cx="166.20" cy="81.57" r="2.75" fill="#fff" stroke="#000" stroke-width="0.8"/>
<circle cx="182.30" cy="66.38" r="2.75" fill="#fff" stroke="#000" stroke-width="0.8"/>
<circle cx="199.31" cy="58.15" r="2.75" fill="#fff" stroke="#000" stroke-width="0.8"/>
<circle cx="215.69" cy="60.10" r="2.75" fill="#fff" stroke="#000" stroke-width="0.8"/>
<circle cx="232.91" cy="60.10" r="2.75" fill="#fff" stroke="#000" stroke-width="0.8"/>
<path d="M98.30,227.73 L101.15,232.33 L95.45,232.33 Z" fill="#000" stroke="#000" stroke-width="0.7" stroke-linejoin="round"/>
<path d="M108.38,227.73 L111.23,232.33 L105.53,232.33 Z" fill="#000" stroke="#000" stroke-width="0.7" stroke-linejoin="round"/>
<path d="M111.60,227.51 L114.45,232.11 L108.75,232.11 Z" fill="#000" stroke="#000" stroke-width="0.7" stroke-linejoin="round"/>
<path d="M115.31,223.62 L118.16,228.22 L112.46,228.22 Z" fill="#000" stroke="#000" stroke-width="0.7" stroke-linejoin="round"/>
<path d="M129.94,205.52 L132.79,210.12 L127.09,210.12 Z" fill="#000" stroke="#000" stroke-width="0.7" stroke-linejoin="round"/>
<path d="M166.48,201.33 L169.33,205.93 L163.63,205.93 Z" fill="#000" stroke="#000" stroke-width="0.7" stroke-linejoin="round"/>
<path d="M182.51,198.34 L185.36,202.94 L179.66,202.94 Z" fill="#000" stroke="#000" stroke-width="0.7" stroke-linejoin="round"/>
<path d="M199.80,183.37 L202.65,187.97 L196.95,187.97 Z" fill="#000" stroke="#000" stroke-width="0.7" stroke-linejoin="round"/>
<path d="M215.90,181.28 L218.75,185.88 L213.05,185.88 Z" fill="#000" stroke="#000" stroke-width="0.7" stroke-linejoin="round"/>
<path d="M232.70,178.89 L235.55,183.49 L229.85,183.49 Z" fill="#000" stroke="#000" stroke-width="0.7" stroke-linejoin="round"/>
<path d="M97.37,318.74 L100.42,321.89 L97.37,325.04 L94.32,321.89 Z" fill="#fff" stroke="#000" stroke-width="0.8"/>
<path d="M106.82,450.53 L109.87,453.68 L106.82,456.83 L103.77,453.68 Z" fill="#fff" stroke="#000" stroke-width="0.8"/>
<path d="M110.53,455.32 L113.58,458.47 L110.53,461.62 L107.48,458.47 Z" fill="#fff" stroke="#000" stroke-width="0.8"/>
<path d="M114.52,444.83 L117.57,447.98 L114.52,451.13 L111.47,447.98 Z" fill="#fff" stroke="#000" stroke-width="0.8"/>
<path d="M128.80,459.37 L131.85,462.52 L128.80,465.67 L125.75,462.52 Z" fill="#fff" stroke="#000" stroke-width="0.8"/>
<path d="M165.41,494.16 L168.46,497.31 L165.41,500.46 L162.36,497.31 Z" fill="#fff" stroke="#000" stroke-width="0.8"/>
<path d="M181.30,496.11 L184.35,499.26 L181.30,502.41 L178.25,499.26 Z" fill="#fff" stroke="#000" stroke-width="0.8"/>
<path d="M198.52,507.65 L201.57,510.80 L198.52,513.95 L195.47,510.80 Z" fill="#fff" stroke="#000" stroke-width="0.8"/>
<path d="M231.77,507.65 L234.82,510.80 L231.77,513.95 L228.72,510.80 Z" fill="#fff" stroke="#000" stroke-width="0.8"/>
<path d="M107.94,513.87 L110.79,509.27 L105.09,509.27 Z" fill="#000" stroke="#000" stroke-width="0.7" stroke-linejoin="round"/>
<path d="M111.02,396.91 L113.87,392.31 L108.17,392.31 Z" fill="#000" stroke="#000" stroke-width="0.7" stroke-linejoin="round"/>
<path d="M114.03,364.84 L116.88,360.24 L111.18,360.24 Z" fill="#000" stroke="#000" stroke-width="0.7" stroke-linejoin="round"/>
<path d="M128.87,449.64 L131.72,445.04 L126.02,445.04 Z" fill="#000" stroke="#000" stroke-width="0.7" stroke-linejoin="round"/>
<path d="M181.30,488.68 L184.15,484.08 L178.45,484.08 Z" fill="#000" stroke="#000" stroke-width="0.7" stroke-linejoin="round"/>
<path d="M198.31,493.72 L201.16,489.12 L195.46,489.12 Z" fill="#000" stroke="#000" stroke-width="0.7" stroke-linejoin="round"/>
<path d="M214.90,513.87 L217.75,509.27 L212.05,509.27 Z" fill="#000" stroke="#000" stroke-width="0.7" stroke-linejoin="round"/>
<path d="M231.77,505.22 L234.62,500.62 L228.92,500.62 Z" fill="#000" stroke="#000" stroke-width="0.7" stroke-linejoin="round"/>
<circle cx="398.10" cy="231.10" r="2.75" fill="#fff" stroke="#000" stroke-width="0.8"/>
<circle cx="429.19" cy="197.24" r="2.75" fill="#fff" stroke="#000" stroke-width="0.8"/>
<circle cx="448.52" cy="142.41" r="2.75" fill="#fff" stroke="#000" stroke-width="0.8"/>
<circle cx="463.86" cy="115.74" r="2.75" fill="#fff" stroke="#000" stroke-width="0.8"/>
<circle cx="469.11" cy="106.45" r="2.75" fill="#fff" stroke="#000" stroke-width="0.8"/>
<circle cx="480.11" cy="95.51" r="2.75" fill="#fff" stroke="#000" stroke-width="0.8"/>
<circle cx="485.57" cy="93.71" r="2.75" fill="#fff" stroke="#000" stroke-width="0.8"/>
<circle cx="497.27" cy="90.72" r="2.75" fill="#fff" stroke="#000" stroke-width="0.8"/>
<circle cx="502.10" cy="81.73" r="2.75" fill="#fff" stroke="#000" stroke-width="0.8"/>
<circle cx="514.01" cy="69.89" r="2.75" fill="#fff" stroke="#000" stroke-width="0.8"/>
<circle cx="519.33" cy="71.09" r="2.75" fill="#fff" stroke="#000" stroke-width="0.8"/>
<circle cx="534.88" cy="66.30" r="2.75" fill="#fff" stroke="#000" stroke-width="0.8"/>
<circle cx="577.81" cy="69.59" r="2.75" fill="#fff" stroke="#000" stroke-width="0.8"/>
<circle cx="591.60" cy="74.39" r="2.75" fill="#fff" stroke="#000" stroke-width="0.8"/>
<path d="M448.80,228.03 L451.65,232.63 L445.95,232.63 Z" fill="#000" stroke="#000" stroke-width="0.7" stroke-linejoin="round"/>
<path d="M464.35,181.81 L467.20,186.41 L461.50,186.41 Z" fill="#000" stroke="#000" stroke-width="0.7" stroke-linejoin="round"/>
<path d="M469.11,178.67 L471.96,183.27 L466.26,183.27 Z" fill="#000" stroke="#000" stroke-width="0.7" stroke-linejoin="round"/>
<path d="M480.53,168.18 L483.38,172.78 L477.68,172.78 Z" fill="#000" stroke="#000" stroke-width="0.7" stroke-linejoin="round"/>
<path d="M485.36,163.24 L488.21,167.84 L482.51,167.84 Z" fill="#000" stroke="#000" stroke-width="0.7" stroke-linejoin="round"/>
<path d="M497.76,138.66 L500.61,143.26 L494.91,143.26 Z" fill="#000" stroke="#000" stroke-width="0.7" stroke-linejoin="round"/>
<path d="M502.52,130.27 L505.37,134.87 L499.67,134.87 Z" fill="#000" stroke="#000" stroke-width="0.7" stroke-linejoin="round"/>
<path d="M514.50,104.81 L517.35,109.41 L511.65,109.41 Z" fill="#000" stroke="#000" stroke-width="0.7" stroke-linejoin="round"/>
<path d="M519.68,93.87 L522.53,98.47 L516.83,98.47 Z" fill="#000" stroke="#000" stroke-width="0.7" stroke-linejoin="round"/>
<path d="M534.74,63.75 L537.59,68.35 L531.89,68.35 Z" fill="#000" stroke="#000" stroke-width="0.7" stroke-linejoin="round"/>
<path d="M577.60,48.17 L580.45,52.77 L574.75,52.77 Z" fill="#000" stroke="#000" stroke-width="0.7" stroke-linejoin="round"/>
<path d="M591.81,39.18 L594.66,43.78 L588.96,43.78 Z" fill="#000" stroke="#000" stroke-width="0.7" stroke-linejoin="round"/>
<path d="M428.80,432.64 L431.85,435.79 L428.80,438.94 L425.75,435.79 Z" fill="#fff" stroke="#000" stroke-width="0.8"/>
<path d="M448.33,474.82 L451.38,477.97 L448.33,481.12 L445.28,477.97 Z" fill="#fff" stroke="#000" stroke-width="0.8"/>
<path d="M463.80,485.18 L466.85,488.33 L463.80,491.48 L460.75,488.33 Z" fill="#fff" stroke="#000" stroke-width="0.8"/>
<path d="M468.63,487.88 L471.68,491.03 L468.63,494.18 L465.58,491.03 Z" fill="#fff" stroke="#000" stroke-width="0.8"/>
<path d="M480.60,498.39 L483.65,501.54 L480.60,504.69 L477.55,501.54 Z" fill="#fff" stroke="#000" stroke-width="0.8"/>
<path d="M485.43,501.99 L488.48,505.14 L485.43,508.29 L482.38,505.14 Z" fill="#fff" stroke="#000" stroke-width="0.8"/>
<path d="M497.19,493.74 L500.24,496.89 L497.19,500.04 L494.14,496.89 Z" fill="#fff" stroke="#000" stroke-width="0.8"/>
<path d="M502.23,489.84 L505.28,492.99 L502.23,496.14 L499.18,492.99 Z" fill="#fff" stroke="#000" stroke-width="0.8"/>
<path d="M514.20,503.95 L517.25,507.10 L514.20,510.25 L511.15,507.10 Z" fill="#fff" stroke="#000" stroke-width="0.8"/>
<path d="M519.03,506.05 L522.08,509.20 L519.03,512.35 L515.98,509.20 Z" fill="#fff" stroke="#000" stroke-width="0.8"/>
<path d="M534.50,501.84 L537.55,504.99 L534.50,508.14 L531.45,504.99 Z" fill="#fff" stroke="#000" stroke-width="0.8"/>
<path d="M448.61,381.84 L451.46,377.24 L445.76,377.24 Z" fill="#000" stroke="#000" stroke-width="0.7" stroke-linejoin="round"/>
<path d="M464.08,421.35 L466.93,416.75 L461.23,416.75 Z" fill="#000" stroke="#000" stroke-width="0.7" stroke-linejoin="round"/>
<path d="M468.98,473.30 L471.83,468.70 L466.13,468.70 Z" fill="#000" stroke="#000" stroke-width="0.7" stroke-linejoin="round"/>
<path d="M480.60,473.30 L483.45,468.70 L477.75,468.70 Z" fill="#000" stroke="#000" stroke-width="0.7" stroke-linejoin="round"/>
<path d="M485.43,453.79 L488.28,449.19 L482.58,449.19 Z" fill="#000" stroke="#000" stroke-width="0.7" stroke-linejoin="round"/>
<path d="M497.33,431.18 L500.18,426.58 L494.48,426.58 Z" fill="#000" stroke="#000" stroke-width="0.7" stroke-linejoin="round"/>
<path d="M502.23,437.15 L505.08,432.55 L499.38,432.55 Z" fill="#000" stroke="#000" stroke-width="0.7" stroke-linejoin="round"/>
<path d="M514.06,433.79 L516.91,429.19 L511.21,429.19 Z" fill="#000" stroke="#000" stroke-width="0.7" stroke-linejoin="round"/>
<path d="M519.10,432.53 L521.95,427.93 L516.25,427.93 Z" fill="#000" stroke="#000" stroke-width="0.7" stroke-linejoin="round"/>
<path d="M534.71,464.22 L537.56,459.62 L531.86,459.62 Z" fill="#000" stroke="#000" stroke-width="0.7" stroke-linejoin="round"/>
<path d="M576.99,502.55 L579.84,497.95 L574.14,497.95 Z" fill="#000" stroke="#000" stroke-width="0.7" stroke-linejoin="round"/>
<path d="M591.62,489.94 L594.47,485.34 L588.77,485.34 Z" fill="#000" stroke="#000" stroke-width="0.7" stroke-linejoin="round"/>
<line x1="108.00" y1="21.35" x2="108.00" y2="230.80" stroke="#a0a0a0" stroke-width="1"/>
<line x1="215.50" y1="21.35" x2="215.50" y2="230.80" stroke="#a0a0a0" stroke-width="1"/>
<line x1="107.50" y1="300.90" x2="107.50" y2="510.80" stroke="#a0a0a0" stroke-width="1"/>
<line x1="215.60" y1="300.90" x2="215.60" y2="510.80" stroke="#a0a0a0" stroke-width="1"/>
<line x1="429.50" y1="21.35" x2="429.50" y2="231.10" stroke="#a0a0a0" stroke-width="1"/>
<line x1="547.40" y1="21.35" x2="547.40" y2="231.10" stroke="#a0a0a0" stroke-width="1"/>
<line x1="429.50" y1="302.95" x2="429.50" y2="513.10" stroke="#a0a0a0" stroke-width="1"/>
<line x1="547.40" y1="302.95" x2="547.40" y2="513.10" stroke="#a0a0a0" stroke-width="1"/>
</svg>
</body></html>
